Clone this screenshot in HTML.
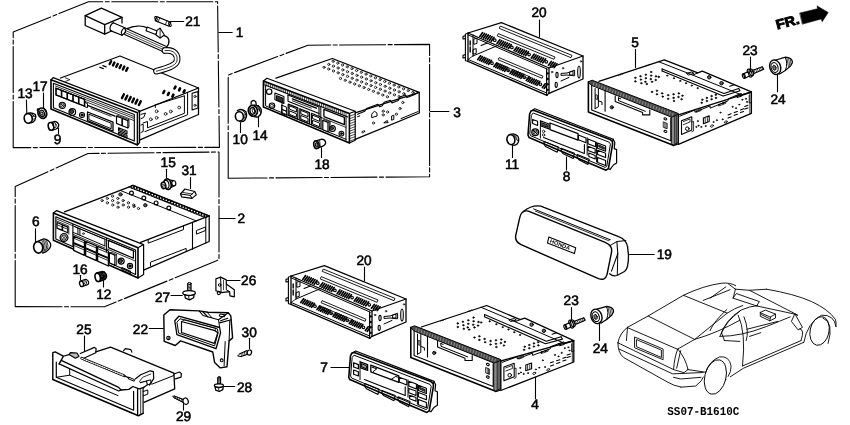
<!DOCTYPE html>
<html><head><meta charset="utf-8"><title>Radio parts diagram</title>
<style>
html,body{margin:0;padding:0;background:#fff;}
body{width:850px;height:425px;overflow:hidden;font-family:"Liberation Sans",sans-serif;}
svg{display:block;}
.lb,.mono,text{text-rendering:geometricPrecision;}
.lb{font-family:"Liberation Sans",sans-serif;fill:#000;stroke:#000;stroke-width:0.55px;}
.mono{font-family:"Liberation Mono",monospace;font-weight:bold;fill:#000;}
path,circle,ellipse{stroke-linejoin:round;stroke-linecap:round;}
</style></head><body>
<svg width="850" height="425" viewBox="0 0 850 425">
<defs><filter id="idf" x="0" y="0" width="850" height="425" filterUnits="userSpaceOnUse"><feOffset dx="0" dy="0"/></filter></defs>
<rect x="0" y="0" width="850" height="425" fill="#fff"/>
<g filter="url(#idf)">
<path d="M13.2 147.6 L13.2 32 L88.5 1.8 L217.6 1.8 L219.4 147.4 L13.2 147.6" fill="none" stroke="#000" stroke-width="1.1" stroke-dasharray="46 2.5 4 2.5"/>
<path d="M15.2 306.6 L15.2 186.6 L88 153.5 L219 152 L219 259.7 L104.5 306.8 L15.2 306.6" fill="none" stroke="#000" stroke-width="1.1" stroke-dasharray="46 2.5 4 2.5"/>
<path d="M228.2 178.2 L228.2 75 L308 45.2 L429.6 44.4 L429.6 176.8 L228.2 178.2" fill="none" stroke="#000" stroke-width="1.1" stroke-dasharray="46 2.5 4 2.5"/>
<text x="239.6" y="37" text-anchor="middle" font-size="13.7" class="lb">1</text>
<text x="192.8" y="26" text-anchor="middle" font-size="13.7" class="lb">21</text>
<text x="25" y="98.3" text-anchor="middle" font-size="13.7" class="lb">13</text>
<text x="40" y="91.1" text-anchor="middle" font-size="13.7" class="lb">17</text>
<text x="57.5" y="143.9" text-anchor="middle" font-size="13.7" class="lb">9</text>
<text x="241.3" y="222.5" text-anchor="middle" font-size="13.7" class="lb">2</text>
<text x="457" y="116.5" text-anchor="middle" font-size="13.7" class="lb">3</text>
<text x="240.2" y="143.8" text-anchor="middle" font-size="13.7" class="lb">10</text>
<text x="260" y="139.6" text-anchor="middle" font-size="13.7" class="lb">14</text>
<text x="322" y="169" text-anchor="middle" font-size="13.7" class="lb">18</text>
<text x="168.2" y="166.9" text-anchor="middle" font-size="13.7" class="lb">15</text>
<text x="189" y="174.8" text-anchor="middle" font-size="13.7" class="lb">31</text>
<text x="35.8" y="225.6" text-anchor="middle" font-size="13.7" class="lb">6</text>
<text x="80" y="273.8" text-anchor="middle" font-size="13.7" class="lb">16</text>
<text x="103.8" y="298.8" text-anchor="middle" font-size="13.7" class="lb">12</text>
<text x="248.7" y="284.9" text-anchor="middle" font-size="13.7" class="lb">26</text>
<text x="162.5" y="301.6" text-anchor="middle" font-size="13.7" class="lb">27</text>
<text x="140.4" y="334.1" text-anchor="middle" font-size="13.7" class="lb">22</text>
<text x="83.9" y="333.6" text-anchor="middle" font-size="13.7" class="lb">25</text>
<text x="249.2" y="336.6" text-anchor="middle" font-size="13.7" class="lb">30</text>
<text x="244.6" y="392.1" text-anchor="middle" font-size="13.7" class="lb">28</text>
<text x="183.5" y="421.1" text-anchor="middle" font-size="13.7" class="lb">29</text>
<text x="539" y="16.6" text-anchor="middle" font-size="13.7" class="lb">20</text>
<text x="364" y="264.6" text-anchor="middle" font-size="13.7" class="lb">20</text>
<text x="635" y="47.4" text-anchor="middle" font-size="13.7" class="lb">5</text>
<text x="750" y="54.6" text-anchor="middle" font-size="13.7" class="lb">23</text>
<text x="778" y="104.1" text-anchor="middle" font-size="13.7" class="lb">24</text>
<text x="512" y="168.6" text-anchor="middle" font-size="13.7" class="lb">11</text>
<text x="566.5" y="180.6" text-anchor="middle" font-size="13.7" class="lb">8</text>
<text x="664.3" y="258.9" text-anchor="middle" font-size="13.7" class="lb">19</text>
<text x="571.2" y="305.4" text-anchor="middle" font-size="13.7" class="lb">23</text>
<text x="600.3" y="352.7" text-anchor="middle" font-size="13.7" class="lb">24</text>
<text x="535.1" y="408.6" text-anchor="middle" font-size="13.7" class="lb">4</text>
<text x="324" y="371.6" text-anchor="middle" font-size="13.7" class="lb">7</text>
<path d="M218.8 32.5 L232.2 32.5" fill="none" stroke="#000" stroke-width="1.1" />
<path d="M170.5 21.5 L183.7 21.5" fill="none" stroke="#000" stroke-width="1.1" />
<path d="M26.4 100 L26.8 113.2" fill="none" stroke="#000" stroke-width="1.1" />
<path d="M43.5 93 L43.5 108" fill="none" stroke="#000" stroke-width="1.1" />
<path d="M58.5 128.4 L58.5 133.4" fill="none" stroke="#000" stroke-width="1.1" />
<path d="M219 218.5 L235 218.5" fill="none" stroke="#000" stroke-width="1.1" />
<path d="M430 111.5 L448.9 111.5" fill="none" stroke="#000" stroke-width="1.1" />
<path d="M240.5 122.5 L240.5 132.6" fill="none" stroke="#000" stroke-width="1.1" />
<path d="M258.5 116.8 L258.5 126.8" fill="none" stroke="#000" stroke-width="1.1" />
<path d="M321.5 147.8 L321.5 157.4" fill="none" stroke="#000" stroke-width="1.1" />
<path d="M166.5 169.2 L166.5 177.6" fill="none" stroke="#000" stroke-width="1.1" />
<path d="M190.5 177.6 L190.5 188.4" fill="none" stroke="#000" stroke-width="1.1" />
<path d="M35.5 228.8 L35.5 242.2" fill="none" stroke="#000" stroke-width="1.1" />
<path d="M80.5 275.2 L80.5 279.4" fill="none" stroke="#000" stroke-width="1.1" />
<path d="M103.5 280.6 L103.5 287" fill="none" stroke="#000" stroke-width="1.1" />
<path d="M227 280.5 L240 280.5" fill="none" stroke="#000" stroke-width="1.1" />
<path d="M171 295.5 L182.2 295.5" fill="none" stroke="#000" stroke-width="1.1" />
<path d="M149.2 328.5 L163.3 328.5" fill="none" stroke="#000" stroke-width="1.1" />
<path d="M84.5 336 L84.5 350.9" fill="none" stroke="#000" stroke-width="1.1" />
<path d="M249.5 338.2 L249.5 348.8" fill="none" stroke="#000" stroke-width="1.1" />
<path d="M224 386.5 L234.7 386.5" fill="none" stroke="#000" stroke-width="1.1" />
<path d="M183.5 402.7 L183.5 410.1" fill="none" stroke="#000" stroke-width="1.1" />
<path d="M539.5 20 L539.5 37" fill="none" stroke="#000" stroke-width="1.1" />
<path d="M364.5 267 L364.5 281" fill="none" stroke="#000" stroke-width="1.1" />
<path d="M635.5 49.5 L635.5 67.5" fill="none" stroke="#000" stroke-width="1.1" />
<path d="M750.5 57 L750.5 71.8" fill="none" stroke="#000" stroke-width="1.1" />
<path d="M777.5 74 L777.5 91.8" fill="none" stroke="#000" stroke-width="1.1" />
<path d="M512.5 145.8 L512.5 157.4" fill="none" stroke="#000" stroke-width="1.1" />
<path d="M566.5 157 L566.5 170" fill="none" stroke="#000" stroke-width="1.1" />
<path d="M629.6 254.5 L654.2 254.5" fill="none" stroke="#000" stroke-width="1.1" />
<path d="M571.5 307.5 L571.5 319.2" fill="none" stroke="#000" stroke-width="1.1" />
<path d="M599.5 322.4 L599.5 340.4" fill="none" stroke="#000" stroke-width="1.1" />
<path d="M535.5 377.2 L535.5 398.4" fill="none" stroke="#000" stroke-width="1.1" />
<path d="M331 367.5 L349 367.5" fill="none" stroke="#000" stroke-width="1.1" />
<text x="667.3" y="415.4" font-size="10.9" class="mono" textLength="72" lengthAdjust="spacingAndGlyphs" transform="translate(0 415.4) scale(1 1.1) translate(0 -415.4)">SS07-B1610C</text>
<path d="M60.5 78 L120 56 L198.5 88 L139.6 111.4" fill="none" stroke="#000" stroke-width="1.3" />
<path d="M198.5 88 L198.5 114.5 L140 139.8" fill="none" stroke="#000" stroke-width="1.3" />
<path d="M51 79.7 L137.5 112.7 L137.5 144.9 L51 108.9Z" fill="none" stroke="#000" stroke-width="1.6" />
<path d="M51 79.7 L53.2 77.6 L139.6 110.8 L139.6 142.6 L137.5 144.9" fill="none" stroke="#000" stroke-width="1.2" />
<path d="M137.5 112.7 L139.6 110.8" fill="none" stroke="#000" stroke-width="1.1" />
<path d="M53.4 83.2 L134.3 114.4 L134.3 141.1 L53.4 107.7Z" fill="none" stroke="#000" stroke-width="1.1" />
<path d="M55.5 86 L133.5 116.3" fill="none" stroke="#000" stroke-width="0.8" />
<path d="M55.5 87.9 L133.5 118.2" fill="none" stroke="#000" stroke-width="0.8" />
<path d="M85 101.4 L133.5 120.4" fill="none" stroke="#000" stroke-width="0.8" />
<path d="M56 88.2 L61.3 90.3 L61.3 97 L56 94.9Z" fill="none" stroke="#000" stroke-width="1.1" />
<path d="M61.8 90.5 L67 92.6 L67 99.3 L61.8 97.2Z" fill="none" stroke="#000" stroke-width="1.1" />
<path d="M67.5 92.7 L72.8 94.8 L72.8 101.6 L67.5 99.5Z" fill="none" stroke="#000" stroke-width="1.1" />
<path d="M73.2 95 L78.5 97 L78.5 103.8 L73.2 101.7Z" fill="none" stroke="#000" stroke-width="1.1" />
<path d="M79 97.2 L84.3 99.3 L84.3 106.1 L79 104Z" fill="none" stroke="#000" stroke-width="1.1" />
<path d="M56 88.2 L84.7 99.4 L84.7 106.3 L56 94.9Z" fill="none" stroke="#000" stroke-width="1.2" />
<path d="M84.7 102.4 L87.5 103.5 L87.5 107.7 L84.7 106.6" fill="none" stroke="#000" stroke-width="1" />
<path d="M87.5 105.3 L115 116.2" fill="none" stroke="#000" stroke-width="1.3" />
<path d="M91 108.4 L111 116.3" fill="none" stroke="#000" stroke-width="0.8" />
<circle cx="62.3" cy="105.3" r="3.1" fill="none" stroke="#000" stroke-width="1.1"/>
<circle cx="62.3" cy="105.3" r="2" fill="none" stroke="#000" stroke-width="0.7"/>
<path d="M60.7 103.7 L63.9 106.9" fill="none" stroke="#000" stroke-width="0.8" />
<path d="M60.7 106.9 L63.9 103.7" fill="none" stroke="#000" stroke-width="0.8" />
<circle cx="72.3" cy="112" r="3.3" fill="none" stroke="#000" stroke-width="1.2"/>
<circle cx="71.7" cy="111.6" r="2" fill="#444" stroke="#000" stroke-width="1"/>
<circle cx="82" cy="115" r="2.5" fill="none" stroke="#000" stroke-width="1.1"/>
<circle cx="82" cy="115" r="1.2" fill="#000" stroke="#000" stroke-width="0.7"/>
<path d="M87.5 112 L113 122.2 L113 131.2 L87.5 120.7Z" fill="none" stroke="#000" stroke-width="1.3" />
<path d="M89.3 114.4 L111.2 123.2 L111.2 128.7 L89.3 119.7Z" fill="none" stroke="#000" stroke-width="1" />
<path d="M116.5 116.1 L122.1 118.3 L122.1 125.7 L116.5 123.4Z" fill="none" stroke="#000" stroke-width="1.2" />
<path d="M122.3 118.4 L127.9 120.6 L127.9 128 L122.3 125.8Z" fill="none" stroke="#000" stroke-width="1.2" />
<path d="M116.5 116.1 L117.6 115.3 L129 119.7 L127.9 120.6" fill="none" stroke="#000" stroke-width="0.8" />
<path d="M129 119.7 L129 127.2 L127.9 128" fill="none" stroke="#000" stroke-width="0.8" />
<path d="M118.5 127.7 L127 131.1 L127 134 L118.5 130.5Z" fill="none" stroke="#000" stroke-width="1.1" />
<path d="M118.5 132 L127 135.5 L127 138.3 L118.5 134.8Z" fill="none" stroke="#000" stroke-width="1.1" />
<path d="M119.5 129.5 L126 132.1" fill="none" stroke="#000" stroke-width="1" />
<path d="M119.5 133.8 L126 136.5" fill="none" stroke="#000" stroke-width="1" />
<path d="M65.2 77.8 L69.9 79.7 L65.8 81.3" fill="none" stroke="#000" stroke-width="0.8" />
<path d="M109.7 64.1 L111.1 61.2" fill="none" stroke="#000" stroke-width="2.4" />
<path d="M113 65.4 L114.4 62.6" fill="none" stroke="#000" stroke-width="2.4" />
<path d="M116.3 66.8 L117.7 63.9" fill="none" stroke="#000" stroke-width="2.4" />
<path d="M119.6 68.1 L121 65.2" fill="none" stroke="#000" stroke-width="2.4" />
<path d="M122.9 69.5 L124.3 66.6" fill="none" stroke="#000" stroke-width="2.4" />
<path d="M126.2 70.8 L127.6 67.9" fill="none" stroke="#000" stroke-width="2.4" />
<path d="M102.9 65.6 L106.1 66.9" fill="none" stroke="#000" stroke-width="1.2" />
<path d="M99.8 67.2 L103.3 68.6" fill="none" stroke="#000" stroke-width="1.2" />
<path d="M122 98.1 L123.9 94.3" fill="none" stroke="#000" stroke-width="2.4" />
<path d="M125.4 99.5 L127.3 95.7" fill="none" stroke="#000" stroke-width="2.4" />
<path d="M128.8 100.8 L130.7 97.1" fill="none" stroke="#000" stroke-width="2.4" />
<path d="M132.2 102.2 L134 98.5" fill="none" stroke="#000" stroke-width="2.4" />
<path d="M135.5 103.6 L137.4 99.8" fill="none" stroke="#000" stroke-width="2.4" />
<path d="M138.9 105 L140.8 101.2" fill="none" stroke="#000" stroke-width="2.4" />
<path d="M174.5 88.5 L175.5 86.6" fill="none" stroke="#000" stroke-width="2.6" />
<path d="M179.1 90.4 L180 88.4" fill="none" stroke="#000" stroke-width="2.6" />
<path d="M183.6 92.2 L184.6 90.3" fill="none" stroke="#000" stroke-width="2.6" />
<path d="M163.3 93 L164.3 91" fill="none" stroke="#000" stroke-width="2.6" />
<path d="M167.9 94.8 L168.9 92.9" fill="none" stroke="#000" stroke-width="2.6" />
<path d="M172.4 96.7 L173.4 94.7" fill="none" stroke="#000" stroke-width="2.6" />
<path d="M155.3 104.9 L184.4 95.8" fill="none" stroke="#000" stroke-width="1" />
<path d="M184.4 96.2 L184.4 113.3 L147.5 127.8 L147.5 121.5 L143 123" fill="none" stroke="#000" stroke-width="1" />
<path d="M187.6 92.6 L187.6 114.8 L144.9 131.6" fill="none" stroke="#000" stroke-width="1" />
<path d="M155.3 104.9 L155.3 107.5" fill="none" stroke="#000" stroke-width="1" />
<path d="M192.1 93.2 L198 91.6 L198 108.1 L192.1 110Z" fill="none" stroke="#000" stroke-width="1.1" />
<circle cx="195" cy="96.5" r="1.1" fill="none" stroke="#000" stroke-width="0.8"/>
<circle cx="195" cy="105.3" r="1.1" fill="none" stroke="#000" stroke-width="0.8"/>
<circle cx="156.6" cy="111.3" r="1.4" fill="none" stroke="#000" stroke-width="0.8"/>
<circle cx="156.6" cy="117.8" r="1.4" fill="none" stroke="#000" stroke-width="0.8"/>
<circle cx="150.8" cy="119.3" r="1.4" fill="none" stroke="#000" stroke-width="0.8"/>
<circle cx="165.6" cy="113.9" r="1.4" fill="none" stroke="#000" stroke-width="0.8"/>
<circle cx="170.8" cy="111.5" r="1.4" fill="none" stroke="#000" stroke-width="0.8"/>
<circle cx="179.2" cy="107.5" r="1.4" fill="none" stroke="#000" stroke-width="0.8"/>
<path d="M141 114.4 L145.5 113.1 L143.6 117.6 L141 118.6" fill="none" stroke="#000" stroke-width="1" />
<path d="M141 125 L143.2 124.2 L143.2 131.5 L141 132.4" fill="none" stroke="#000" stroke-width="1" />
<path d="M85.2 15.7 L101.4 8.2 L122 17.3 L104.7 24.7Z" fill="none" stroke="#000" stroke-width="1.3" />
<path d="M85.2 15.7 L85.2 25.5 L104.7 34.1 L104.7 24.7" fill="none" stroke="#000" stroke-width="1.3" />
<path d="M104.7 34.1 L111.6 31" fill="none" stroke="#000" stroke-width="1.3" />
<path d="M122 17.3 L122 23.1" fill="none" stroke="#000" stroke-width="1.3" />
<path d="M113.2 22.7 L124.8 27.7" fill="none" stroke="#000" stroke-width="1.2" />
<path d="M110.4 30.6 L122 35.3" fill="none" stroke="#000" stroke-width="1.2" />
<path d="M113.2 22.7 Q108.8 26 110.4 30.6" fill="none" stroke="#000" stroke-width="1.2" />
<path d="M124.8 27.7 Q127.4 32.1 122 35.3 Q119.8 30.5 124.8 27.7" fill="none" stroke="#000" stroke-width="1.2" />
<path d="M125.7 28.2 L165.8 46.3" fill="none" stroke="#000" stroke-width="1.1" />
<path d="M125.3 30.4 L165.1 48.2" fill="none" stroke="#000" stroke-width="0.7" />
<path d="M124.9 32.5 L164.5 50" fill="none" stroke="#000" stroke-width="0.7" />
<path d="M124.6 34.6 L163.9 51.9" fill="none" stroke="#000" stroke-width="1.1" />
<path d="M165 50.6 C174.5 49.2,178.2 55.5,176.9 61.1 C175.6 66.3,166 68.6,156.4 71.2" fill="none" stroke="#000" stroke-width="6.6"/>
<path d="M165 50.6 C174.5 49.2,178.2 55.5,176.9 61.1 C175.6 66.3,166 68.6,156.4 71.2" fill="none" stroke="#fff" stroke-width="4.5"/>
<path d="M165 50.6 C174.5 49.2,178.2 55.5,176.9 61.1 C175.6 66.3,166 68.6,156.4 71.2" fill="none" stroke="#000" stroke-width="0.8"/>
<path d="M127 28.6 C133.6 26 142.1 25.2 147.3 27.8" fill="none" stroke="#000" stroke-width="1.3" />
<path d="M147.3 27.1 L157.1 31 L155.8 34.6 L146 30.7Z" fill="#fff" stroke="#000" stroke-width="1.1" />
<path d="M157.1 30.1 L160.1 28.2 L164.4 35 L160.1 38 L156 35Z" fill="#fff" stroke="#000" stroke-width="1.1" />
<path d="M160.1 28.2 L160.1 38" fill="none" stroke="#000" stroke-width="0.8" />
<path d="M164.1 35.7 C169.9 37.2 170.3 42.9 166.5 47" fill="none" stroke="#000" stroke-width="1.3" />
<path d="M156.7 16.6 L170.7 22.2 L169.1 26.3 L155.2 20.7Z" fill="none" stroke="#000" stroke-width="1.2" />
<ellipse cx="156" cy="18.6" rx="1.1" ry="2.2" fill="none" stroke="#000" stroke-width="1" transform="rotate(-22 156 18.6)"/>
<ellipse cx="169.9" cy="24.3" rx="1.1" ry="2.2" fill="none" stroke="#000" stroke-width="1" transform="rotate(-22 169.9 24.3)"/>
<path d="M159.7 17.9 L158.2 22" fill="none" stroke="#000" stroke-width="0.8" />
<path d="M166.9 20.7 L165.4 24.8" fill="none" stroke="#000" stroke-width="0.8" />
<path d="M26.3 113.9 Q31.2 111.5 35.4 114.6 Q36.8 117.4 34.9 120.2 Q33.5 122.4 31.2 122.8" fill="none" stroke="#000" stroke-width="1.3" />
<ellipse cx="28.2" cy="118.4" rx="4" ry="4.8" fill="#fff" stroke="#000" stroke-width="1.6" transform="rotate(-12 28.2 118.4)"/>
<path d="M30.7 113.2 L32.1 113.9" fill="none" stroke="#000" stroke-width="0.8" />
<path d="M31.7 113.9 L32.9 114.9" fill="none" stroke="#000" stroke-width="0.8" />
<path d="M32.6 114.7 L33.6 115.8" fill="none" stroke="#000" stroke-width="0.8" />
<path d="M33.5 115.4 L34.4 116.8" fill="none" stroke="#000" stroke-width="0.8" />
<path d="M32.1 116.5 L35.4 116" fill="none" stroke="#000" stroke-width="0.8" />
<path d="M32.3 119.3 L34.9 118.8" fill="none" stroke="#000" stroke-width="0.8" />
<ellipse cx="42.3" cy="113.2" rx="4.2" ry="5.3" fill="#fff" stroke="#000" stroke-width="1.7" transform="rotate(-22 42.3 113.2)"/>
<ellipse cx="42" cy="113.4" rx="2.4" ry="3.2" fill="none" stroke="#000" stroke-width="1.2" transform="rotate(-22 42 113.4)"/>
<ellipse cx="41.9" cy="113.5" rx="1.1" ry="1.6" fill="none" stroke="#000" stroke-width="1" transform="rotate(-22 41.9 113.5)"/>
<path d="M38.9 111.1 L37.3 110.2 L37.6 108.9 L39.5 109.2" fill="none" stroke="#000" stroke-width="1.2" />
<path d="M44.4 108.7 Q48.1 111.3 45.3 116.9" fill="none" stroke="#000" stroke-width="1.1" />
<path d="M50 122.8 L54.9 121.3 Q58 121.8 58.7 124.7 Q58.9 127.5 56.1 129 L52.4 130.1" fill="none" stroke="#000" stroke-width="1.3" />
<ellipse cx="51" cy="126.4" rx="2.7" ry="3.9" fill="#fff" stroke="#000" stroke-width="1.6" transform="rotate(-12 51 126.4)"/>
<ellipse cx="54.5" cy="125.2" rx="1.6" ry="2.6" fill="none" stroke="#000" stroke-width="0.8" transform="rotate(-12 54.5 125.2)"/>
<path d="M52.4 122.2 L53 123.5" fill="none" stroke="#000" stroke-width="0.8" />
<path d="M64.5 211.8 L133.2 185.3 L209.2 215.8 L140.6 242.4" fill="none" stroke="#000" stroke-width="1.3" />
<path d="M209.2 215.8 L209.2 241.5 L143.6 270.2" fill="none" stroke="#000" stroke-width="1.3" />
<path d="M205.8 217.4 L205.8 243" fill="none" stroke="#000" stroke-width="1" />
<path d="M53.4 213 L138 247.8 L138 278 L53.4 240.2Z" fill="none" stroke="#000" stroke-width="1.6" />
<path d="M53.4 213 L56.6 210.6 L143.6 244.6 L143.6 274.6 L138 278" fill="none" stroke="#000" stroke-width="1.2" />
<path d="M138 247.8 L143.6 244.6" fill="none" stroke="#000" stroke-width="1.1" />
<path d="M55.8 216.8 L135.6 249.9 L135.6 274.5 L55.8 239.1Z" fill="none" stroke="#000" stroke-width="1.1" />
<path d="M56.9 219.1 L135 251.6" fill="none" stroke="#000" stroke-width="0.8" />
<path d="M57 222.5 L62.2 224.7 L62.2 230.4 L57 228.1Z" fill="none" stroke="#000" stroke-width="1.2" />
<path d="M62.6 224.9 L67.8 227.1 L67.8 232.8 L62.6 230.5Z" fill="none" stroke="#000" stroke-width="1.2" />
<path d="M57 224.7 L62.2 226.9" fill="none" stroke="#000" stroke-width="0.8" />
<path d="M62.6 227.1 L67.8 229.3" fill="none" stroke="#000" stroke-width="0.8" />
<path d="M56.4 220.9 L68.8 226.1 L68.8 234.2" fill="none" stroke="#000" stroke-width="0.8" />
<circle cx="64" cy="237.6" r="3.9" fill="none" stroke="#000" stroke-width="1.3"/>
<circle cx="64" cy="237.6" r="2.5" fill="none" stroke="#000" stroke-width="0.8"/>
<path d="M62.2 235.8 L65.8 239.4" fill="none" stroke="#000" stroke-width="0.8" />
<path d="M62.2 239.4 L65.8 235.8" fill="none" stroke="#000" stroke-width="0.8" />
<path d="M72.9 224.3 L72.9 246.6" fill="none" stroke="#000" stroke-width="1.1" />
<path d="M72.9 232.3 L104.9 245.9" fill="none" stroke="#000" stroke-width="1" />
<path d="M74.4 226.6 L104.9 239.3 L104.9 245.9" fill="none" stroke="#000" stroke-width="1" />
<path d="M77.9 228.2 L77.9 233.9" fill="none" stroke="#000" stroke-width="1" />
<path d="M79.9 229.1 L79.9 234.8" fill="none" stroke="#000" stroke-width="1" />
<circle cx="83.4" cy="233.6" r="0.9" fill="none" stroke="#000" stroke-width="0.7"/>
<path d="M72.9 234.3 L104.9 248" fill="none" stroke="#000" stroke-width="0.8" />
<path d="M73.6 236.1 L84.4 240.7 L84.4 247.4 L73.6 242.6Z" fill="#fff" stroke="#000" stroke-width="1.2" />
<path d="M74.4 238.5 L83.6 242.5" fill="none" stroke="#000" stroke-width="0.8" />
<path d="M73.6 243.3 L84.4 248 L84.4 255.3 L73.6 250.4Z" fill="#fff" stroke="#000" stroke-width="1.3" />
<path d="M74.4 245.7 L83.6 249.7" fill="none" stroke="#000" stroke-width="0.8" />
<path d="M85.6 241.2 L96.4 245.9 L96.4 252.6 L85.6 247.9Z" fill="#fff" stroke="#000" stroke-width="1.2" />
<path d="M86.4 243.7 L95.6 247.6" fill="none" stroke="#000" stroke-width="0.8" />
<path d="M85.6 248.5 L96.4 253.3 L96.4 260.7 L85.6 255.8Z" fill="#fff" stroke="#000" stroke-width="1.3" />
<path d="M86.4 251 L95.6 255" fill="none" stroke="#000" stroke-width="0.8" />
<path d="M97.6 246.4 L108.4 251 L108.4 257.9 L97.6 253.2Z" fill="#fff" stroke="#000" stroke-width="1.2" />
<path d="M98.4 248.9 L107.6 252.8" fill="none" stroke="#000" stroke-width="0.8" />
<path d="M97.6 253.8 L108.4 258.5 L108.4 266 L97.6 261.2Z" fill="#fff" stroke="#000" stroke-width="1.3" />
<path d="M98.4 256.3 L107.6 260.3" fill="none" stroke="#000" stroke-width="0.8" />
<path d="M106.4 238 L106.4 251.9" fill="none" stroke="#000" stroke-width="1" />
<path d="M108.4 240.4 L133.4 250.8 L133.4 258.2 L108.4 247.6Z" fill="none" stroke="#000" stroke-width="1.2" />
<path d="M106.4 248.7 L135 260.9" fill="none" stroke="#000" stroke-width="0.8" />
<path d="M109.4 252.8 L114.9 255.1 L114.9 265.3 L109.4 262.8Z" fill="#fff" stroke="#000" stroke-width="1.2" />
<path d="M109.4 252.8 L111 252.2 L116.6 254.6 L114.9 255.1" fill="none" stroke="#000" stroke-width="0.8" />
<path d="M116.6 254.6 L116.6 264.7 L114.9 265.3" fill="none" stroke="#000" stroke-width="0.8" />
<circle cx="121.2" cy="261.1" r="3" fill="none" stroke="#000" stroke-width="1.2"/>
<circle cx="120.7" cy="260.8" r="1.8" fill="#444" stroke="#000" stroke-width="1"/>
<circle cx="130" cy="266" r="2.6" fill="none" stroke="#000" stroke-width="1.1"/>
<circle cx="130" cy="266" r="1.3" fill="#000" stroke="#000" stroke-width="0.7"/>
<path d="M121.9 267.5 L130.4 271.3 L130.4 273.7 L121.9 269.9Z" fill="none" stroke="#000" stroke-width="1.1" />
<path d="M120.2 190.4 L196.2 220.9" fill="none" stroke="#000" stroke-width="1" />
<path d="M128.7 187 L204.7 217.5" fill="none" stroke="#000" stroke-width="0.8" />
<circle cx="132.5" cy="186.7" r="1.4" fill="none" stroke="#000" stroke-width="1.1"/>
<circle cx="135.4" cy="187.8" r="1.4" fill="none" stroke="#000" stroke-width="1.1"/>
<circle cx="138.2" cy="188.9" r="1.4" fill="none" stroke="#000" stroke-width="1.1"/>
<circle cx="141" cy="190.1" r="1.4" fill="none" stroke="#000" stroke-width="1.1"/>
<circle cx="143.8" cy="191.2" r="1.4" fill="none" stroke="#000" stroke-width="1.1"/>
<circle cx="146.6" cy="192.3" r="1.4" fill="none" stroke="#000" stroke-width="1.1"/>
<circle cx="149.4" cy="193.4" r="1.4" fill="none" stroke="#000" stroke-width="1.1"/>
<circle cx="152.3" cy="194.6" r="1.4" fill="none" stroke="#000" stroke-width="1.1"/>
<circle cx="155.1" cy="195.7" r="1.4" fill="none" stroke="#000" stroke-width="1.1"/>
<circle cx="157.9" cy="196.8" r="1.4" fill="none" stroke="#000" stroke-width="1.1"/>
<circle cx="160.7" cy="198" r="1.4" fill="none" stroke="#000" stroke-width="1.1"/>
<circle cx="163.5" cy="199.1" r="1.4" fill="none" stroke="#000" stroke-width="1.1"/>
<circle cx="166.3" cy="200.2" r="1.4" fill="none" stroke="#000" stroke-width="1.1"/>
<circle cx="169.1" cy="201.3" r="1.4" fill="none" stroke="#000" stroke-width="1.1"/>
<circle cx="172" cy="202.5" r="1.4" fill="none" stroke="#000" stroke-width="1.1"/>
<circle cx="174.8" cy="203.6" r="1.4" fill="none" stroke="#000" stroke-width="1.1"/>
<circle cx="177.6" cy="204.7" r="1.4" fill="none" stroke="#000" stroke-width="1.1"/>
<circle cx="180.4" cy="205.9" r="1.4" fill="none" stroke="#000" stroke-width="1.1"/>
<circle cx="183.2" cy="207" r="1.4" fill="none" stroke="#000" stroke-width="1.1"/>
<circle cx="186" cy="208.1" r="1.4" fill="none" stroke="#000" stroke-width="1.1"/>
<circle cx="188.8" cy="209.3" r="1.4" fill="none" stroke="#000" stroke-width="1.1"/>
<circle cx="191.7" cy="210.4" r="1.4" fill="none" stroke="#000" stroke-width="1.1"/>
<circle cx="194.5" cy="211.5" r="1.4" fill="none" stroke="#000" stroke-width="1.1"/>
<circle cx="197.3" cy="212.6" r="1.4" fill="none" stroke="#000" stroke-width="1.1"/>
<circle cx="200.1" cy="213.8" r="1.4" fill="none" stroke="#000" stroke-width="1.1"/>
<circle cx="202.9" cy="214.9" r="1.4" fill="none" stroke="#000" stroke-width="1.1"/>
<circle cx="205.7" cy="216" r="1.4" fill="none" stroke="#000" stroke-width="1.1"/>
<circle cx="131.5" cy="193.1" r="1.9" fill="none" stroke="#000" stroke-width="1.2"/>
<circle cx="143.8" cy="198" r="1.9" fill="none" stroke="#000" stroke-width="1.2"/>
<circle cx="156.1" cy="202.9" r="1.9" fill="none" stroke="#000" stroke-width="1.2"/>
<circle cx="168.8" cy="208" r="1.9" fill="none" stroke="#000" stroke-width="1.2"/>
<circle cx="120.5" cy="194.4" r="1.7" fill="#555" stroke="#000" stroke-width="0.8"/>
<circle cx="145.3" cy="205.2" r="1.7" fill="#555" stroke="#000" stroke-width="0.8"/>
<circle cx="112.5" cy="196.2" r="1.1" fill="none" stroke="#000" stroke-width="0.8"/>
<circle cx="117.8" cy="198.4" r="1.1" fill="none" stroke="#000" stroke-width="0.8"/>
<circle cx="123.1" cy="200.6" r="1.1" fill="none" stroke="#000" stroke-width="0.8"/>
<circle cx="128.4" cy="202.8" r="1.1" fill="none" stroke="#000" stroke-width="0.8"/>
<circle cx="133.7" cy="205" r="1.1" fill="none" stroke="#000" stroke-width="0.8"/>
<circle cx="107.3" cy="198.4" r="1.1" fill="none" stroke="#000" stroke-width="0.8"/>
<circle cx="112.6" cy="200.6" r="1.1" fill="none" stroke="#000" stroke-width="0.8"/>
<circle cx="117.9" cy="202.8" r="1.1" fill="none" stroke="#000" stroke-width="0.8"/>
<circle cx="123.2" cy="205" r="1.1" fill="none" stroke="#000" stroke-width="0.8"/>
<circle cx="128.5" cy="207.2" r="1.1" fill="none" stroke="#000" stroke-width="0.8"/>
<circle cx="102.1" cy="200.6" r="1.1" fill="none" stroke="#000" stroke-width="0.8"/>
<circle cx="107.4" cy="202.8" r="1.1" fill="none" stroke="#000" stroke-width="0.8"/>
<circle cx="112.7" cy="205" r="1.1" fill="none" stroke="#000" stroke-width="0.8"/>
<circle cx="118" cy="207.2" r="1.1" fill="none" stroke="#000" stroke-width="0.8"/>
<circle cx="134" cy="206.5" r="1.1" fill="none" stroke="#000" stroke-width="0.8"/>
<circle cx="138.5" cy="208.5" r="1.1" fill="none" stroke="#000" stroke-width="0.8"/>
<path d="M192.5 222.4 L192.5 249.2" fill="none" stroke="#000" stroke-width="1.1" />
<path d="M148.2 239.6 L148.2 243.2 L183.5 229.6 L183.5 226" fill="none" stroke="#000" stroke-width="1" />
<path d="M150.5 265.6 L150.5 262.2 L186.2 248.4 L186.2 251" fill="none" stroke="#000" stroke-width="1" />
<path d="M196.8 230.4 L205.4 227 L205.4 230.6 L196.8 234Z" fill="none" stroke="#000" stroke-width="1" />
<ellipse cx="173.8" cy="183.2" rx="2" ry="2.7" fill="none" stroke="#000" stroke-width="1.2" transform="rotate(-10 173.8 183.2)"/>
<path d="M169.1 179.9 L173.6 180.6" fill="none" stroke="#000" stroke-width="1.1" />
<path d="M169.7 188.2 L174.1 185.8" fill="none" stroke="#000" stroke-width="1.1" />
<ellipse cx="167.5" cy="184.2" rx="3.6" ry="5.3" fill="#fff" stroke="#000" stroke-width="1.7" transform="rotate(-12 167.5 184.2)"/>
<ellipse cx="166.3" cy="184.4" rx="2.6" ry="4" fill="none" stroke="#000" stroke-width="1.1" transform="rotate(-12 166.3 184.4)"/>
<ellipse cx="163.5" cy="185.4" rx="2.3" ry="3.3" fill="#fff" stroke="#000" stroke-width="1.4" transform="rotate(-12 163.5 185.4)"/>
<ellipse cx="163.2" cy="185.5" rx="1.1" ry="1.7" fill="none" stroke="#000" stroke-width="0.8" transform="rotate(-12 163.2 185.5)"/>
<path d="M180.5 194 L184.9 189 L194.8 191.5 L196.3 194.9 L191.9 198.4 L181.7 196.9Z" fill="none" stroke="#000" stroke-width="1.2" />
<path d="M180.5 194 L190.4 195.4 L194.8 191.5" fill="none" stroke="#000" stroke-width="1" />
<path d="M190.4 195.4 L191.9 198.4" fill="none" stroke="#000" stroke-width="1" />
<path d="M183 192.5 L192.3 194" fill="none" stroke="#000" stroke-width="0.8" />
<path d="M35.8 242 L43.8 238.8 Q48.5 239.6 50.4 243.2 Q51.6 246.7 48.1 250 Q46.2 252.1 42.6 253.1" fill="none" stroke="#000" stroke-width="1.3" />
<ellipse cx="38.2" cy="247.4" rx="4.5" ry="5.7" fill="#fff" stroke="#000" stroke-width="1.6" transform="rotate(-10 38.2 247.4)"/>
<path d="M41.5 239.9 Q45.2 245.3 42.6 252.4" fill="none" stroke="#000" stroke-width="0.8" />
<path d="M43.1 240.1 Q46.6 245.6 44.1 251.4" fill="none" stroke="#000" stroke-width="0.8" />
<path d="M44.8 240.4 Q48.1 246 45.5 250.5" fill="none" stroke="#000" stroke-width="0.8" />
<path d="M46.4 240.6 Q49.5 246.4 46.9 249.5" fill="none" stroke="#000" stroke-width="0.8" />
<path d="M80.1 281.1 L85.9 279.2 Q89.9 281.1 88.1 284.4 L82.6 286.5" fill="none" stroke="#000" stroke-width="1.2" />
<ellipse cx="81.5" cy="283.8" rx="1.9" ry="2.8" fill="#fff" stroke="#000" stroke-width="1.3" transform="rotate(-15 81.5 283.8)"/>
<ellipse cx="85.2" cy="282.5" rx="1.2" ry="2" fill="none" stroke="#000" stroke-width="0.8" transform="rotate(-15 85.2 282.5)"/>
<path d="M96.5 272.9 L102.4 271.5 Q106.4 272.6 106.6 276.2 Q106.4 279.1 103.8 279.9 L99.1 281.6" fill="none" stroke="#000" stroke-width="1.3" />
<ellipse cx="97.7" cy="277.4" rx="2.6" ry="4.2" fill="#fff" stroke="#000" stroke-width="1.6" transform="rotate(-12 97.7 277.4)"/>
<path d="M99.4 272.4 Q101.7 276.2 100.3 281.1" fill="none" stroke="#000" stroke-width="1" />
<path d="M100.4 272.3 Q102.6 276.2 101.2 280.8" fill="none" stroke="#000" stroke-width="1" />
<path d="M101.5 272.2 Q103.6 276.2 102.2 280.4" fill="none" stroke="#000" stroke-width="1" />
<path d="M102.5 272.1 Q104.5 276.2 103.1 280.1" fill="none" stroke="#000" stroke-width="1" />
<path d="M103.6 271.9 Q105.5 276.2 104.1 279.7" fill="none" stroke="#000" stroke-width="1" />
<path d="M104.6 271.8 Q106.4 276.2 105 279.4" fill="none" stroke="#000" stroke-width="1" />
<ellipse cx="102.2" cy="276.2" rx="1.6" ry="2.6" fill="none" stroke="#000" stroke-width="1" transform="rotate(-12 102.2 276.2)"/>
<path d="M276 78.2 L332.3 58.5 L419.2 92.4 L355.2 112.8" fill="none" stroke="#000" stroke-width="1.3" />
<path d="M419.2 92.4 L419.3 113 L355.2 139.4" fill="none" stroke="#000" stroke-width="1.3" />
<path d="M401 118.6 L418 111.6" fill="none" stroke="#000" stroke-width="1" />
<path d="M263.4 81 L349.4 113.6 L349.4 143 L263.4 107Z" fill="none" stroke="#000" stroke-width="1.6" />
<path d="M263.4 81 L267 78.2 L355.2 111.2 L355.2 140.2 L349.4 143" fill="none" stroke="#000" stroke-width="1.2" />
<path d="M349.4 113.6 L355.2 111.2" fill="none" stroke="#000" stroke-width="1.1" />
<path d="M264.9 85 L347.9 116.9" fill="none" stroke="#000" stroke-width="1.1" />
<path d="M264.9 82 L264.9 85" fill="none" stroke="#000" stroke-width="0.7" />
<path d="M266.8 82.7 L266.8 85.7" fill="none" stroke="#000" stroke-width="0.7" />
<path d="M268.7 83.4 L268.7 86.4" fill="none" stroke="#000" stroke-width="0.7" />
<path d="M270.6 84.1 L270.6 87.2" fill="none" stroke="#000" stroke-width="0.7" />
<path d="M272.4 84.8 L272.4 87.9" fill="none" stroke="#000" stroke-width="0.7" />
<path d="M274.3 85.5 L274.3 88.6" fill="none" stroke="#000" stroke-width="0.7" />
<path d="M276.2 86.3 L276.2 89.3" fill="none" stroke="#000" stroke-width="0.7" />
<path d="M278.1 87 L278.1 90" fill="none" stroke="#000" stroke-width="0.7" />
<path d="M280 87.7 L280 90.8" fill="none" stroke="#000" stroke-width="0.7" />
<path d="M281.9 88.4 L281.9 91.5" fill="none" stroke="#000" stroke-width="0.7" />
<path d="M283.8 89.1 L283.8 92.2" fill="none" stroke="#000" stroke-width="0.7" />
<path d="M285.6 89.8 L285.6 92.9" fill="none" stroke="#000" stroke-width="0.7" />
<path d="M287.5 90.6 L287.5 93.7" fill="none" stroke="#000" stroke-width="0.7" />
<path d="M289.4 91.3 L289.4 94.4" fill="none" stroke="#000" stroke-width="0.7" />
<path d="M291.3 92 L291.3 95.1" fill="none" stroke="#000" stroke-width="0.7" />
<path d="M293.2 92.7 L293.2 95.8" fill="none" stroke="#000" stroke-width="0.7" />
<path d="M295.1 93.4 L295.1 96.6" fill="none" stroke="#000" stroke-width="0.7" />
<path d="M297 94.1 L297 97.3" fill="none" stroke="#000" stroke-width="0.7" />
<path d="M298.9 94.9 L298.9 98" fill="none" stroke="#000" stroke-width="0.7" />
<path d="M300.7 95.6 L300.7 98.7" fill="none" stroke="#000" stroke-width="0.7" />
<path d="M302.6 96.3 L302.6 99.5" fill="none" stroke="#000" stroke-width="0.7" />
<path d="M304.5 97 L304.5 100.2" fill="none" stroke="#000" stroke-width="0.7" />
<path d="M306.4 97.7 L306.4 100.9" fill="none" stroke="#000" stroke-width="0.7" />
<path d="M308.3 98.4 L308.3 101.6" fill="none" stroke="#000" stroke-width="0.7" />
<path d="M310.2 99.2 L310.2 102.4" fill="none" stroke="#000" stroke-width="0.7" />
<path d="M312.1 99.9 L312.1 103.1" fill="none" stroke="#000" stroke-width="0.7" />
<path d="M313.9 100.6 L313.9 103.8" fill="none" stroke="#000" stroke-width="0.7" />
<path d="M315.8 101.3 L315.8 104.5" fill="none" stroke="#000" stroke-width="0.7" />
<path d="M317.7 102 L317.7 105.3" fill="none" stroke="#000" stroke-width="0.7" />
<path d="M319.6 102.7 L319.6 106" fill="none" stroke="#000" stroke-width="0.7" />
<path d="M321.5 103.5 L321.5 106.7" fill="none" stroke="#000" stroke-width="0.7" />
<path d="M323.4 104.2 L323.4 107.4" fill="none" stroke="#000" stroke-width="0.7" />
<path d="M325.3 104.9 L325.3 108.2" fill="none" stroke="#000" stroke-width="0.7" />
<path d="M327.1 105.6 L327.1 108.9" fill="none" stroke="#000" stroke-width="0.7" />
<path d="M329 106.3 L329 109.6" fill="none" stroke="#000" stroke-width="0.7" />
<path d="M330.9 107 L330.9 110.3" fill="none" stroke="#000" stroke-width="0.7" />
<path d="M332.8 107.7 L332.8 111.1" fill="none" stroke="#000" stroke-width="0.7" />
<path d="M334.7 108.5 L334.7 111.8" fill="none" stroke="#000" stroke-width="0.7" />
<path d="M336.6 109.2 L336.6 112.5" fill="none" stroke="#000" stroke-width="0.7" />
<path d="M338.5 109.9 L338.5 113.2" fill="none" stroke="#000" stroke-width="0.7" />
<path d="M340.4 110.6 L340.4 114" fill="none" stroke="#000" stroke-width="0.7" />
<path d="M342.2 111.3 L342.2 114.7" fill="none" stroke="#000" stroke-width="0.7" />
<path d="M344.1 112 L344.1 115.4" fill="none" stroke="#000" stroke-width="0.7" />
<path d="M346 112.8 L346 116.1" fill="none" stroke="#000" stroke-width="0.7" />
<path d="M349.6 116.2 L355 114.2" fill="none" stroke="#000" stroke-width="0.7" />
<path d="M349.6 118.7 L355 116.7" fill="none" stroke="#000" stroke-width="0.7" />
<path d="M349.6 121.2 L355 119.2" fill="none" stroke="#000" stroke-width="0.7" />
<path d="M349.6 123.7 L355 121.7" fill="none" stroke="#000" stroke-width="0.7" />
<path d="M349.6 126.2 L355 124.2" fill="none" stroke="#000" stroke-width="0.7" />
<path d="M349.6 128.7 L355 126.7" fill="none" stroke="#000" stroke-width="0.7" />
<path d="M349.6 131.2 L355 129.2" fill="none" stroke="#000" stroke-width="0.7" />
<path d="M349.6 133.7 L355 131.7" fill="none" stroke="#000" stroke-width="0.7" />
<path d="M349.6 136.2 L355 134.2" fill="none" stroke="#000" stroke-width="0.7" />
<path d="M349.6 138.7 L355 136.7" fill="none" stroke="#000" stroke-width="0.7" />
<path d="M349.6 141.2 L355 139.2" fill="none" stroke="#000" stroke-width="0.7" />
<path d="M346 116.1 L346 140.4" fill="none" stroke="#000" stroke-width="1" />
<path d="M265.6 85.2 L265.6 105.9 L346 139.3" fill="none" stroke="#000" stroke-width="1" />
<circle cx="269.2" cy="91.7" r="2.7" fill="none" stroke="#000" stroke-width="1.2"/>
<path d="M274.9 93.1 L283.9 96.6 L283.9 103.4 L274.9 99.8Z" fill="none" stroke="#000" stroke-width="1.1" />
<path d="M276.9 95.7 L282.9 98.1 L282.9 102.4 L276.9 100Z" fill="#333" stroke="#000" stroke-width="1" />
<circle cx="272" cy="105.7" r="2.7" fill="none" stroke="#000" stroke-width="1.2"/>
<circle cx="272" cy="105.7" r="1.4" fill="none" stroke="#000" stroke-width="0.7"/>
<path d="M288 95.1 L319 107.1 L319 115.6" fill="none" stroke="#000" stroke-width="1.1" />
<path d="M288 95.1 L288 101.3 L319 113.6" fill="none" stroke="#000" stroke-width="1.1" />
<path d="M292.4 98.9 L316.4 108.2" fill="none" stroke="#000" stroke-width="1.4" />
<path d="M292.4 100.8 L311.4 108.2" fill="none" stroke="#000" stroke-width="0.8" />
<path d="M282 105.3 L286.6 107.2 L286.6 111.3 L282 109.4Z" fill="none" stroke="#000" stroke-width="1" />
<path d="M282 109.4 L286.6 111.3 L286.6 115.5 L282 113.5Z" fill="none" stroke="#000" stroke-width="1" />
<path d="M282 103.5 L282 114.3" fill="none" stroke="#000" stroke-width="1" />
<path d="M288.2 104.1 L297.8 107.9 L297.8 119.1 L288.2 115.1Z" fill="#fff" stroke="#000" stroke-width="1.2" />
<path d="M289.6 105.9 L296.4 108.6 L296.4 112 L289.6 109.2Z" fill="none" stroke="#000" stroke-width="1" />
<path d="M289.6 110.9 L296.4 113.7 L296.4 117.2 L289.6 114.4Z" fill="none" stroke="#000" stroke-width="1" />
<path d="M299.8 108.7 L309.4 112.6 L309.4 123.9 L299.8 119.9Z" fill="#fff" stroke="#000" stroke-width="1.2" />
<path d="M301.2 110.5 L308 113.3 L308 116.7 L301.2 113.9Z" fill="none" stroke="#000" stroke-width="1" />
<path d="M301.2 115.6 L308 118.4 L308 122 L301.2 119.2Z" fill="none" stroke="#000" stroke-width="1" />
<path d="M311.4 113.3 L321 117.2 L321 128.7 L311.4 124.7Z" fill="#fff" stroke="#000" stroke-width="1.2" />
<path d="M312.8 115.2 L319.6 117.9 L319.6 121.4 L312.8 118.6Z" fill="none" stroke="#000" stroke-width="1" />
<path d="M312.8 120.4 L319.6 123.1 L319.6 126.8 L312.8 124Z" fill="none" stroke="#000" stroke-width="1" />
<path d="M320.8 107.1 L320.8 118" fill="none" stroke="#000" stroke-width="1" />
<path d="M323.9 109.4 L344.4 117.3 L344.4 124.7 L323.9 116.6Z" fill="none" stroke="#000" stroke-width="1.3" />
<path d="M321.4 117.6 L346 127.4" fill="none" stroke="#000" stroke-width="0.8" />
<path d="M322.8 120.3 L328 122.4 L328 131.8 L322.8 129.7Z" fill="#fff" stroke="#000" stroke-width="1.2" />
<path d="M322.8 120.3 L324.2 119.5 L329.4 121.6 L328 122.4" fill="none" stroke="#000" stroke-width="0.8" />
<path d="M329.4 121.6 L329.4 131.1 L328 131.8" fill="none" stroke="#000" stroke-width="0.8" />
<circle cx="332.4" cy="128.6" r="2.9" fill="none" stroke="#000" stroke-width="1.2"/>
<circle cx="332" cy="128.3" r="1.6" fill="#444" stroke="#000" stroke-width="0.8"/>
<circle cx="341.4" cy="133.6" r="2.4" fill="none" stroke="#000" stroke-width="1.1"/>
<circle cx="341.4" cy="133.6" r="1.1" fill="#000" stroke="#000" stroke-width="0.7"/>
<path d="M330.4 124.5 L330.4 121.2" fill="none" stroke="#000" stroke-width="0.6" />
<circle cx="333.1" cy="61.3" r="1.1" fill="none" stroke="#000" stroke-width="0.8"/>
<circle cx="337.8" cy="63.1" r="1.1" fill="none" stroke="#000" stroke-width="0.8"/>
<circle cx="342.5" cy="65" r="1.1" fill="none" stroke="#000" stroke-width="0.8"/>
<circle cx="347.2" cy="66.8" r="1.1" fill="none" stroke="#000" stroke-width="0.8"/>
<circle cx="351.9" cy="68.6" r="1.1" fill="none" stroke="#000" stroke-width="0.8"/>
<circle cx="356.6" cy="70.5" r="1.1" fill="none" stroke="#000" stroke-width="0.8"/>
<circle cx="361.3" cy="72.3" r="1.1" fill="none" stroke="#000" stroke-width="0.8"/>
<circle cx="366" cy="74.1" r="1.1" fill="none" stroke="#000" stroke-width="0.8"/>
<circle cx="370.7" cy="76" r="1.1" fill="none" stroke="#000" stroke-width="0.8"/>
<circle cx="375.4" cy="77.8" r="1.1" fill="none" stroke="#000" stroke-width="0.8"/>
<circle cx="380.1" cy="79.6" r="1.1" fill="none" stroke="#000" stroke-width="0.8"/>
<circle cx="384.7" cy="81.5" r="1.1" fill="none" stroke="#000" stroke-width="0.8"/>
<circle cx="389.4" cy="83.3" r="1.1" fill="none" stroke="#000" stroke-width="0.8"/>
<circle cx="394.1" cy="85.1" r="1.1" fill="none" stroke="#000" stroke-width="0.8"/>
<circle cx="398.8" cy="86.9" r="1.1" fill="none" stroke="#000" stroke-width="0.8"/>
<circle cx="403.5" cy="88.8" r="1.1" fill="none" stroke="#000" stroke-width="0.8"/>
<circle cx="408.2" cy="90.6" r="1.1" fill="none" stroke="#000" stroke-width="0.8"/>
<circle cx="412.9" cy="92.4" r="1.1" fill="none" stroke="#000" stroke-width="0.8"/>
<circle cx="328.8" cy="64.4" r="1.1" fill="none" stroke="#000" stroke-width="0.8"/>
<circle cx="333.4" cy="66.2" r="1.1" fill="none" stroke="#000" stroke-width="0.8"/>
<circle cx="338.1" cy="68" r="1.1" fill="none" stroke="#000" stroke-width="0.8"/>
<circle cx="342.8" cy="69.9" r="1.1" fill="none" stroke="#000" stroke-width="0.8"/>
<circle cx="347.5" cy="71.7" r="1.1" fill="none" stroke="#000" stroke-width="0.8"/>
<circle cx="352.2" cy="73.5" r="1.1" fill="none" stroke="#000" stroke-width="0.8"/>
<circle cx="356.9" cy="75.4" r="1.1" fill="none" stroke="#000" stroke-width="0.8"/>
<circle cx="361.6" cy="77.2" r="1.1" fill="none" stroke="#000" stroke-width="0.8"/>
<circle cx="366.3" cy="79" r="1.1" fill="none" stroke="#000" stroke-width="0.8"/>
<circle cx="371" cy="80.8" r="1.1" fill="none" stroke="#000" stroke-width="0.8"/>
<circle cx="375.7" cy="82.7" r="1.1" fill="none" stroke="#000" stroke-width="0.8"/>
<circle cx="380.4" cy="84.5" r="1.1" fill="none" stroke="#000" stroke-width="0.8"/>
<circle cx="385.1" cy="86.3" r="1.1" fill="none" stroke="#000" stroke-width="0.8"/>
<circle cx="389.8" cy="88.2" r="1.1" fill="none" stroke="#000" stroke-width="0.8"/>
<circle cx="394.4" cy="90" r="1.1" fill="none" stroke="#000" stroke-width="0.8"/>
<circle cx="399.1" cy="91.8" r="1.1" fill="none" stroke="#000" stroke-width="0.8"/>
<circle cx="403.8" cy="93.7" r="1.1" fill="none" stroke="#000" stroke-width="0.8"/>
<circle cx="324" cy="67.3" r="1.1" fill="none" stroke="#000" stroke-width="0.8"/>
<circle cx="328.7" cy="69.1" r="1.1" fill="none" stroke="#000" stroke-width="0.8"/>
<circle cx="333.4" cy="71" r="1.1" fill="none" stroke="#000" stroke-width="0.8"/>
<circle cx="338.1" cy="72.8" r="1.1" fill="none" stroke="#000" stroke-width="0.8"/>
<circle cx="342.8" cy="74.6" r="1.1" fill="none" stroke="#000" stroke-width="0.8"/>
<circle cx="347.5" cy="76.4" r="1.1" fill="none" stroke="#000" stroke-width="0.8"/>
<circle cx="352.2" cy="78.3" r="1.1" fill="none" stroke="#000" stroke-width="0.8"/>
<circle cx="356.9" cy="80.1" r="1.1" fill="none" stroke="#000" stroke-width="0.8"/>
<circle cx="361.6" cy="81.9" r="1.1" fill="none" stroke="#000" stroke-width="0.8"/>
<circle cx="366.3" cy="83.8" r="1.1" fill="none" stroke="#000" stroke-width="0.8"/>
<circle cx="371" cy="85.6" r="1.1" fill="none" stroke="#000" stroke-width="0.8"/>
<circle cx="375.6" cy="87.4" r="1.1" fill="none" stroke="#000" stroke-width="0.8"/>
<circle cx="380.3" cy="89.3" r="1.1" fill="none" stroke="#000" stroke-width="0.8"/>
<circle cx="385" cy="91.1" r="1.1" fill="none" stroke="#000" stroke-width="0.8"/>
<circle cx="389.7" cy="92.9" r="1.1" fill="none" stroke="#000" stroke-width="0.8"/>
<circle cx="394.4" cy="94.8" r="1.1" fill="none" stroke="#000" stroke-width="0.8"/>
<circle cx="399.1" cy="96.6" r="1.1" fill="none" stroke="#000" stroke-width="0.8"/>
<circle cx="340.5" cy="78.5" r="1.1" fill="none" stroke="#000" stroke-width="0.8"/>
<circle cx="345.2" cy="80.3" r="1.1" fill="none" stroke="#000" stroke-width="0.8"/>
<circle cx="349.9" cy="82.2" r="1.1" fill="none" stroke="#000" stroke-width="0.8"/>
<circle cx="354.6" cy="84" r="1.1" fill="none" stroke="#000" stroke-width="0.8"/>
<circle cx="359.3" cy="85.8" r="1.1" fill="none" stroke="#000" stroke-width="0.8"/>
<circle cx="364" cy="87.6" r="1.1" fill="none" stroke="#000" stroke-width="0.8"/>
<circle cx="368.7" cy="89.5" r="1.1" fill="none" stroke="#000" stroke-width="0.8"/>
<circle cx="373.4" cy="91.3" r="1.1" fill="none" stroke="#000" stroke-width="0.8"/>
<circle cx="378.1" cy="93.1" r="1.1" fill="none" stroke="#000" stroke-width="0.8"/>
<circle cx="382.7" cy="95" r="1.1" fill="none" stroke="#000" stroke-width="0.8"/>
<circle cx="387.4" cy="96.8" r="1.1" fill="none" stroke="#000" stroke-width="0.8"/>
<path d="M357.6 114.2 L364.7 111.3 L366.5 108.5 L377.9 104.3 L379.7 106.7 L382.3 105.7 L384.1 102.3 L390.3 100.2 L392 102.9 L398.2 100.4 L400 96.9 L405.3 94.9 L407 97.6 L414.1 94.8 L418.5 92.6" fill="none" stroke="#000" stroke-width="1.1" />
<path d="M371.7 117.3 L371.7 114.2 L374.4 111.2 L377 113.1 L377 115.6Z" fill="none" stroke="#000" stroke-width="1" />
<circle cx="383.2" cy="111.2" r="1.1" fill="none" stroke="#000" stroke-width="0.8"/>
<circle cx="387.6" cy="112" r="1.1" fill="none" stroke="#000" stroke-width="0.8"/>
<circle cx="383.2" cy="114.9" r="1.1" fill="none" stroke="#000" stroke-width="0.8"/>
<circle cx="396.4" cy="114.2" r="1.1" fill="none" stroke="#000" stroke-width="0.8"/>
<circle cx="400" cy="108.5" r="1.1" fill="none" stroke="#000" stroke-width="0.8"/>
<circle cx="402.8" cy="102.5" r="1.1" fill="none" stroke="#000" stroke-width="0.8"/>
<circle cx="373.5" cy="123" r="1.1" fill="none" stroke="#000" stroke-width="0.8"/>
<path d="M392 115.9 L393.8 115.2 L393.8 119.4 L392 120.1Z" fill="none" stroke="#000" stroke-width="1" />
<path d="M384.1 122.6 L387.3 120.5 L388 122.3Z" fill="none" stroke="#000" stroke-width="1" />
<ellipse cx="363.3" cy="131.8" rx="1.6" ry="0.8" fill="none" stroke="#000" stroke-width="0.8" transform="rotate(-22 363.3 131.8)"/>
<path d="M357.6 116.6 L359.8 115.9" fill="none" stroke="#000" stroke-width="1" />
<path d="M237.3 110.5 Q242.2 108 245.9 111.8 Q247.7 116.4 244.8 120.3 Q243.3 121.9 241 121.6" fill="none" stroke="#000" stroke-width="1.3" />
<ellipse cx="239.4" cy="116.4" rx="4" ry="4.7" fill="#fff" stroke="#000" stroke-width="1.6" transform="rotate(-10 239.4 116.4)"/>
<path d="M242.5 110.3 L243.8 110.8" fill="none" stroke="#000" stroke-width="0.8" />
<path d="M243.3 111.2 L244.5 112" fill="none" stroke="#000" stroke-width="0.8" />
<path d="M244.1 112.1 L245.1 113.1" fill="none" stroke="#000" stroke-width="0.8" />
<path d="M244.8 113 L245.7 114.3" fill="none" stroke="#000" stroke-width="0.8" />
<path d="M245.6 113.9 L246.4 115.5" fill="none" stroke="#000" stroke-width="0.8" />
<path d="M244.6 114.4 L246.1 114.4" fill="none" stroke="#000" stroke-width="0.8" />
<path d="M244.5 116 L245.7 115.9" fill="none" stroke="#000" stroke-width="0.8" />
<path d="M244.3 117.5 L245.4 117.3" fill="none" stroke="#000" stroke-width="0.8" />
<path d="M244.2 119.1 L245 118.7" fill="none" stroke="#000" stroke-width="0.8" />
<path d="M251.1 104.3 L251.3 101.5 L253.4 100.4 L255.7 101.5 L256.2 104.3" fill="none" stroke="#000" stroke-width="1.3" />
<path d="M253.9 105.1 Q259.1 104.7 261.2 109.5 Q261.9 114.4 258.1 116.8 Q255.8 117.3 253.9 116.4" fill="none" stroke="#000" stroke-width="1.3" />
<ellipse cx="252.9" cy="110.8" rx="4.5" ry="5.5" fill="#fff" stroke="#000" stroke-width="1.7" transform="rotate(-12 252.9 110.8)"/>
<ellipse cx="252.6" cy="110.9" rx="2.6" ry="3.4" fill="none" stroke="#000" stroke-width="1.3" transform="rotate(-12 252.6 110.9)"/>
<ellipse cx="253.4" cy="110.8" rx="1.2" ry="2.2" fill="none" stroke="#000" stroke-width="0.8" transform="rotate(-12 253.4 110.8)"/>
<path d="M256.8 105.9 L258.6 105.6" fill="none" stroke="#000" stroke-width="1" />
<path d="M257.4 107 L259 106.9" fill="none" stroke="#000" stroke-width="1" />
<path d="M258.1 108.2 L259.5 108.2" fill="none" stroke="#000" stroke-width="1" />
<path d="M258.7 109.4 L259.9 109.5" fill="none" stroke="#000" stroke-width="1" />
<path d="M259.3 110.5 L260.3 110.8" fill="none" stroke="#000" stroke-width="1" />
<path d="M260 111.7 L260.8 112.1" fill="none" stroke="#000" stroke-width="1" />
<path d="M314.8 141.2 L322 139.1 Q325.4 139.7 325.7 142.5 Q325.6 145 322.8 146.1 L317.8 148.2" fill="none" stroke="#000" stroke-width="1.3" />
<ellipse cx="316.4" cy="144.8" rx="2.6" ry="3.8" fill="#fff" stroke="#000" stroke-width="1.6" transform="rotate(-12 316.4 144.8)"/>
<ellipse cx="316.7" cy="144.8" rx="1.3" ry="2.2" fill="#888" stroke="#000" stroke-width="1" transform="rotate(-12 316.7 144.8)"/>
<path d="M319.6 140.2 L320.3 146.7" fill="none" stroke="#000" stroke-width="0.8" />
<path d="M468 33 L501.4 22.6 L583 56 L549 68Z" fill="none" stroke="#000" stroke-width="1.3" />
<path d="M468 34.8 L547.4 69.2" fill="none" stroke="#000" stroke-width="1" />
<path d="M468 33 L468 61.4" fill="none" stroke="#000" stroke-width="1.3" />
<path d="M465.4 34.2 L465.4 60.6" fill="none" stroke="#000" stroke-width="1.1" />
<path d="M465.4 34.2 L468 33" fill="none" stroke="#000" stroke-width="1" />
<path d="M465.4 60.6 L468 61.4" fill="none" stroke="#000" stroke-width="1" />
<path d="M465.4 35.8 L463 36.4 L463 39 L465.4 38.6" fill="none" stroke="#000" stroke-width="1.1" />
<path d="M465.4 54.6 L463 55.2 L463 58 L465.4 57.6" fill="none" stroke="#000" stroke-width="1.1" />
<path d="M468 61.4 L547 95.4" fill="none" stroke="#000" stroke-width="1.4" />
<path d="M468 59.4 L546.6 93" fill="none" stroke="#000" stroke-width="1" />
<path d="M549 68 L549 93.4" fill="none" stroke="#000" stroke-width="1.3" />
<path d="M546.6 69 L546.6 95.4 L549 93.4" fill="none" stroke="#000" stroke-width="1.2" />
<circle cx="547.8" cy="73.4" r="0.9" fill="#000" stroke="#000" stroke-width="0.6"/>
<circle cx="547.8" cy="79" r="0.9" fill="#000" stroke="#000" stroke-width="0.6"/>
<circle cx="547.8" cy="84.2" r="0.9" fill="#000" stroke="#000" stroke-width="0.6"/>
<circle cx="547.8" cy="89.8" r="0.9" fill="#000" stroke="#000" stroke-width="0.6"/>
<path d="M583 56 L583 79 L549 93.4" fill="none" stroke="#000" stroke-width="1.3" />
<path d="M473 35 L473 56" fill="none" stroke="#000" stroke-width="1" />
<path d="M473 56 L468 59.4" fill="none" stroke="#000" stroke-width="0.8" />
<path d="M473 56 L498 45.4" fill="none" stroke="#000" stroke-width="1" />
<path d="M498 45.4 L546.6 66.6" fill="none" stroke="#000" stroke-width="0" />
<path d="M474.2 39 L477 38.2 L477 43.4 L474.2 44.2Z" fill="none" stroke="#000" stroke-width="1" />
<path d="M473.4 49.4 L476.2 48.6 L476.2 53.4 L473.4 54.2Z" fill="none" stroke="#000" stroke-width="1" />
<path d="M481 45.4 L487.4 43" fill="none" stroke="#000" stroke-width="1.1" />
<path d="M470.2 41 L470.2 45" fill="none" stroke="#000" stroke-width="1.4" />
<path d="M470.2 47 L470.2 52" fill="none" stroke="#000" stroke-width="1.4" />
<path d="M500.6 26.2 L572 55.4 L571 57.7 L499.6 28.5Z" fill="none" stroke="#000" stroke-width="0.9" />
<path d="M498.6 33.8 L555 57 L554 59.3 L497.6 36.1Z" fill="none" stroke="#000" stroke-width="0.9" />
<path d="M499.4 57.8 L543 76.2 L542.1 78.3 L498.5 59.9Z" fill="none" stroke="#000" stroke-width="0.9" />
<path d="M497.8 63.4 L529.4 76.6 L528.5 78.7 L496.9 65.5Z" fill="none" stroke="#000" stroke-width="0.9" />
<path d="M482.6 32.6 L479.8 36.4" fill="none" stroke="#000" stroke-width="1.7" />
<path d="M484.5 33.4 L481.7 37.2" fill="none" stroke="#000" stroke-width="1.7" />
<path d="M486.4 34.2 L483.6 38" fill="none" stroke="#000" stroke-width="1.7" />
<path d="M488.3 35 L485.5 38.8" fill="none" stroke="#000" stroke-width="1.7" />
<path d="M490.2 35.8 L487.4 39.6" fill="none" stroke="#000" stroke-width="1.7" />
<path d="M492.1 36.6 L489.3 40.4" fill="none" stroke="#000" stroke-width="1.7" />
<path d="M494 37.4 L491.2 41.2" fill="none" stroke="#000" stroke-width="1.7" />
<circle cx="494.8" cy="40.2" r="1.3" fill="none" stroke="#000" stroke-width="1.1"/>
<path d="M499.8 39.8 L497 43.6" fill="none" stroke="#000" stroke-width="1.7" />
<path d="M501.7 40.6 L498.9 44.4" fill="none" stroke="#000" stroke-width="1.7" />
<path d="M503.6 41.4 L500.8 45.2" fill="none" stroke="#000" stroke-width="1.7" />
<path d="M505.5 42.2 L502.7 46" fill="none" stroke="#000" stroke-width="1.7" />
<path d="M507.4 43 L504.6 46.8" fill="none" stroke="#000" stroke-width="1.7" />
<path d="M509.3 43.8 L506.5 47.6" fill="none" stroke="#000" stroke-width="1.7" />
<path d="M511.2 44.6 L508.4 48.4" fill="none" stroke="#000" stroke-width="1.7" />
<circle cx="511.9" cy="47.4" r="1.3" fill="none" stroke="#000" stroke-width="1.1"/>
<path d="M516.9 47 L514.1 50.8" fill="none" stroke="#000" stroke-width="1.7" />
<path d="M518.8 47.8 L516 51.6" fill="none" stroke="#000" stroke-width="1.7" />
<path d="M520.8 48.6 L518 52.4" fill="none" stroke="#000" stroke-width="1.7" />
<path d="M522.7 49.4 L519.9 53.2" fill="none" stroke="#000" stroke-width="1.7" />
<path d="M524.6 50.2 L521.8 54" fill="none" stroke="#000" stroke-width="1.7" />
<path d="M526.5 51 L523.7 54.8" fill="none" stroke="#000" stroke-width="1.7" />
<path d="M528.4 51.8 L525.6 55.6" fill="none" stroke="#000" stroke-width="1.7" />
<circle cx="529.1" cy="54.6" r="1.3" fill="none" stroke="#000" stroke-width="1.1"/>
<path d="M534.1 54.2 L531.3 58" fill="none" stroke="#000" stroke-width="1.7" />
<path d="M536 55 L533.2 58.8" fill="none" stroke="#000" stroke-width="1.7" />
<path d="M537.9 55.8 L535.1 59.6" fill="none" stroke="#000" stroke-width="1.7" />
<path d="M539.8 56.6 L537 60.4" fill="none" stroke="#000" stroke-width="1.7" />
<path d="M541.7 57.4 L538.9 61.2" fill="none" stroke="#000" stroke-width="1.7" />
<path d="M543.6 58.2 L540.8 62" fill="none" stroke="#000" stroke-width="1.7" />
<path d="M545.6 59 L542.8 62.8" fill="none" stroke="#000" stroke-width="1.7" />
<circle cx="546.3" cy="61.8" r="1.3" fill="none" stroke="#000" stroke-width="1.1"/>
<path d="M551.3 61.4 L548.5 65.2" fill="none" stroke="#000" stroke-width="1.7" />
<path d="M553.2 62.2 L550.4 66" fill="none" stroke="#000" stroke-width="1.7" />
<path d="M555.1 63 L552.3 66.8" fill="none" stroke="#000" stroke-width="1.7" />
<path d="M557 63.8 L554.2 67.6" fill="none" stroke="#000" stroke-width="1.7" />
<path d="M480.6 55.8 L477.8 59.6" fill="none" stroke="#000" stroke-width="1.7" />
<path d="M482.4 56.6 L479.6 60.4" fill="none" stroke="#000" stroke-width="1.7" />
<path d="M484.2 57.4 L481.4 61.2" fill="none" stroke="#000" stroke-width="1.7" />
<path d="M486 58.1 L483.2 61.9" fill="none" stroke="#000" stroke-width="1.7" />
<path d="M487.8 58.9 L485 62.7" fill="none" stroke="#000" stroke-width="1.7" />
<path d="M489.6 59.7 L486.8 63.5" fill="none" stroke="#000" stroke-width="1.7" />
<path d="M491.4 60.5 L488.6 64.3" fill="none" stroke="#000" stroke-width="1.7" />
<circle cx="492" cy="63.2" r="1.3" fill="none" stroke="#000" stroke-width="1.1"/>
<path d="M496.8 62.8 L494 66.6" fill="none" stroke="#000" stroke-width="1.7" />
<path d="M498.5 63.6 L495.7 67.4" fill="none" stroke="#000" stroke-width="1.7" />
<path d="M500.3 64.4 L497.5 68.2" fill="none" stroke="#000" stroke-width="1.7" />
<path d="M502.1 65.1 L499.3 68.9" fill="none" stroke="#000" stroke-width="1.7" />
<path d="M503.9 65.9 L501.1 69.7" fill="none" stroke="#000" stroke-width="1.7" />
<path d="M505.7 66.7 L502.9 70.5" fill="none" stroke="#000" stroke-width="1.7" />
<path d="M507.5 67.5 L504.7 71.3" fill="none" stroke="#000" stroke-width="1.7" />
<circle cx="508.1" cy="70.3" r="1.3" fill="none" stroke="#000" stroke-width="1.1"/>
<path d="M512.9 69.8 L510.1 73.6" fill="none" stroke="#000" stroke-width="1.7" />
<path d="M514.7 70.6 L511.9 74.4" fill="none" stroke="#000" stroke-width="1.7" />
<path d="M516.5 71.4 L513.7 75.2" fill="none" stroke="#000" stroke-width="1.7" />
<path d="M518.3 72.1 L515.5 75.9" fill="none" stroke="#000" stroke-width="1.7" />
<path d="M520.1 72.9 L517.3 76.7" fill="none" stroke="#000" stroke-width="1.7" />
<path d="M521.9 73.7 L519.1 77.5" fill="none" stroke="#000" stroke-width="1.7" />
<path d="M523.7 74.5 L520.9 78.3" fill="none" stroke="#000" stroke-width="1.7" />
<circle cx="524.3" cy="77.3" r="1.3" fill="none" stroke="#000" stroke-width="1.1"/>
<path d="M529.1 76.8 L526.3 80.6" fill="none" stroke="#000" stroke-width="1.7" />
<path d="M530.8 77.6 L528 81.4" fill="none" stroke="#000" stroke-width="1.7" />
<path d="M532.6 78.4 L529.8 82.2" fill="none" stroke="#000" stroke-width="1.7" />
<path d="M534.4 79.2 L531.6 83" fill="none" stroke="#000" stroke-width="1.7" />
<path d="M536.2 79.9 L533.4 83.7" fill="none" stroke="#000" stroke-width="1.7" />
<path d="M538 80.7 L535.2 84.5" fill="none" stroke="#000" stroke-width="1.7" />
<path d="M539.8 81.5 L537 85.3" fill="none" stroke="#000" stroke-width="1.7" />
<circle cx="540.4" cy="84.3" r="1.3" fill="none" stroke="#000" stroke-width="1.1"/>
<path d="M545.2 83.8 L542.4 87.6" fill="none" stroke="#000" stroke-width="1.7" />
<path d="M547 84.6 L544.2 88.4" fill="none" stroke="#000" stroke-width="1.7" />
<ellipse cx="557" cy="75" rx="1.1" ry="2.6" fill="none" stroke="#000" stroke-width="1.1" transform="rotate(0 557 75)"/>
<ellipse cx="556.2" cy="84.8" rx="1.1" ry="2.6" fill="none" stroke="#000" stroke-width="1.1" transform="rotate(0 556.2 84.8)"/>
<path d="M561.4 73.4 L567 73 L574.6 70.2 L574.6 75.8 L567 75 L561.4 75.4Z" fill="none" stroke="#000" stroke-width="1" />
<path d="M570 72 L573 71.2 L573 75 L570 75Z" fill="none" stroke="#000" stroke-width="1" />
<path d="M561 81 L569 77.4" fill="none" stroke="#000" stroke-width="1" />
<ellipse cx="579" cy="72" rx="1.3" ry="6" fill="none" stroke="#000" stroke-width="1.1" transform="rotate(0 579 72)"/>
<circle cx="563" cy="68.2" r="0.8" fill="none" stroke="#000" stroke-width="0.7"/>
<circle cx="581" cy="61.4" r="0.8" fill="none" stroke="#000" stroke-width="0.7"/>
<circle cx="552" cy="72" r="0.8" fill="none" stroke="#000" stroke-width="0.7"/>
<path d="M291 276 L324.4 265.6 L406 299 L372 311Z" fill="none" stroke="#000" stroke-width="1.3" />
<path d="M291 277.8 L370.4 312.2" fill="none" stroke="#000" stroke-width="1" />
<path d="M291 276 L291 304.4" fill="none" stroke="#000" stroke-width="1.3" />
<path d="M288.4 277.2 L288.4 303.6" fill="none" stroke="#000" stroke-width="1.1" />
<path d="M288.4 277.2 L291 276" fill="none" stroke="#000" stroke-width="1" />
<path d="M288.4 303.6 L291 304.4" fill="none" stroke="#000" stroke-width="1" />
<path d="M288.4 278.8 L286 279.4 L286 282 L288.4 281.6" fill="none" stroke="#000" stroke-width="1.1" />
<path d="M288.4 297.6 L286 298.2 L286 301 L288.4 300.6" fill="none" stroke="#000" stroke-width="1.1" />
<path d="M291 304.4 L370 338.4" fill="none" stroke="#000" stroke-width="1.4" />
<path d="M291 302.4 L369.6 336" fill="none" stroke="#000" stroke-width="1" />
<path d="M372 311 L372 336.4" fill="none" stroke="#000" stroke-width="1.3" />
<path d="M369.6 312 L369.6 338.4 L372 336.4" fill="none" stroke="#000" stroke-width="1.2" />
<circle cx="370.8" cy="316.4" r="0.9" fill="#000" stroke="#000" stroke-width="0.6"/>
<circle cx="370.8" cy="322" r="0.9" fill="#000" stroke="#000" stroke-width="0.6"/>
<circle cx="370.8" cy="327.2" r="0.9" fill="#000" stroke="#000" stroke-width="0.6"/>
<circle cx="370.8" cy="332.8" r="0.9" fill="#000" stroke="#000" stroke-width="0.6"/>
<path d="M406 299 L406 322 L372 336.4" fill="none" stroke="#000" stroke-width="1.3" />
<path d="M296 278 L296 299" fill="none" stroke="#000" stroke-width="1" />
<path d="M296 299 L291 302.4" fill="none" stroke="#000" stroke-width="0.8" />
<path d="M296 299 L321 288.4" fill="none" stroke="#000" stroke-width="1" />
<path d="M321 288.4 L369.6 309.6" fill="none" stroke="#000" stroke-width="0" />
<path d="M297.2 282 L300 281.2 L300 286.4 L297.2 287.2Z" fill="none" stroke="#000" stroke-width="1" />
<path d="M296.4 292.4 L299.2 291.6 L299.2 296.4 L296.4 297.2Z" fill="none" stroke="#000" stroke-width="1" />
<path d="M304 288.4 L310.4 286" fill="none" stroke="#000" stroke-width="1.1" />
<path d="M293.2 284 L293.2 288" fill="none" stroke="#000" stroke-width="1.4" />
<path d="M293.2 290 L293.2 295" fill="none" stroke="#000" stroke-width="1.4" />
<path d="M323.6 269.2 L395 298.4 L394 300.7 L322.6 271.5Z" fill="none" stroke="#000" stroke-width="0.9" />
<path d="M321.6 276.8 L378 300 L377 302.3 L320.6 279.1Z" fill="none" stroke="#000" stroke-width="0.9" />
<path d="M322.4 300.8 L366 319.2 L365.1 321.3 L321.5 302.9Z" fill="none" stroke="#000" stroke-width="0.9" />
<path d="M320.8 306.4 L352.4 319.6 L351.5 321.7 L319.9 308.5Z" fill="none" stroke="#000" stroke-width="0.9" />
<path d="M305.6 275.6 L302.8 279.4" fill="none" stroke="#000" stroke-width="1.7" />
<path d="M307.5 276.4 L304.7 280.2" fill="none" stroke="#000" stroke-width="1.7" />
<path d="M309.4 277.2 L306.6 281" fill="none" stroke="#000" stroke-width="1.7" />
<path d="M311.3 278 L308.5 281.8" fill="none" stroke="#000" stroke-width="1.7" />
<path d="M313.2 278.8 L310.4 282.6" fill="none" stroke="#000" stroke-width="1.7" />
<path d="M315.1 279.6 L312.3 283.4" fill="none" stroke="#000" stroke-width="1.7" />
<path d="M317 280.4 L314.2 284.2" fill="none" stroke="#000" stroke-width="1.7" />
<circle cx="317.8" cy="283.2" r="1.3" fill="none" stroke="#000" stroke-width="1.1"/>
<path d="M322.8 282.8 L320 286.6" fill="none" stroke="#000" stroke-width="1.7" />
<path d="M324.7 283.6 L321.9 287.4" fill="none" stroke="#000" stroke-width="1.7" />
<path d="M326.6 284.4 L323.8 288.2" fill="none" stroke="#000" stroke-width="1.7" />
<path d="M328.5 285.2 L325.7 289" fill="none" stroke="#000" stroke-width="1.7" />
<path d="M330.4 286 L327.6 289.8" fill="none" stroke="#000" stroke-width="1.7" />
<path d="M332.3 286.8 L329.5 290.6" fill="none" stroke="#000" stroke-width="1.7" />
<path d="M334.2 287.6 L331.4 291.4" fill="none" stroke="#000" stroke-width="1.7" />
<circle cx="334.9" cy="290.4" r="1.3" fill="none" stroke="#000" stroke-width="1.1"/>
<path d="M339.9 290 L337.1 293.8" fill="none" stroke="#000" stroke-width="1.7" />
<path d="M341.8 290.8 L339 294.6" fill="none" stroke="#000" stroke-width="1.7" />
<path d="M343.8 291.6 L341 295.4" fill="none" stroke="#000" stroke-width="1.7" />
<path d="M345.7 292.4 L342.9 296.2" fill="none" stroke="#000" stroke-width="1.7" />
<path d="M347.6 293.2 L344.8 297" fill="none" stroke="#000" stroke-width="1.7" />
<path d="M349.5 294 L346.7 297.8" fill="none" stroke="#000" stroke-width="1.7" />
<path d="M351.4 294.8 L348.6 298.6" fill="none" stroke="#000" stroke-width="1.7" />
<circle cx="352.1" cy="297.6" r="1.3" fill="none" stroke="#000" stroke-width="1.1"/>
<path d="M357.1 297.2 L354.3 301" fill="none" stroke="#000" stroke-width="1.7" />
<path d="M359 298 L356.2 301.8" fill="none" stroke="#000" stroke-width="1.7" />
<path d="M360.9 298.8 L358.1 302.6" fill="none" stroke="#000" stroke-width="1.7" />
<path d="M362.8 299.6 L360 303.4" fill="none" stroke="#000" stroke-width="1.7" />
<path d="M364.7 300.4 L361.9 304.2" fill="none" stroke="#000" stroke-width="1.7" />
<path d="M366.6 301.2 L363.8 305" fill="none" stroke="#000" stroke-width="1.7" />
<path d="M368.6 302 L365.8 305.8" fill="none" stroke="#000" stroke-width="1.7" />
<circle cx="369.3" cy="304.8" r="1.3" fill="none" stroke="#000" stroke-width="1.1"/>
<path d="M374.3 304.4 L371.5 308.2" fill="none" stroke="#000" stroke-width="1.7" />
<path d="M376.2 305.2 L373.4 309" fill="none" stroke="#000" stroke-width="1.7" />
<path d="M378.1 306 L375.3 309.8" fill="none" stroke="#000" stroke-width="1.7" />
<path d="M380 306.8 L377.2 310.6" fill="none" stroke="#000" stroke-width="1.7" />
<path d="M303.6 298.8 L300.8 302.6" fill="none" stroke="#000" stroke-width="1.7" />
<path d="M305.4 299.6 L302.6 303.4" fill="none" stroke="#000" stroke-width="1.7" />
<path d="M307.2 300.4 L304.4 304.2" fill="none" stroke="#000" stroke-width="1.7" />
<path d="M309 301.1 L306.2 304.9" fill="none" stroke="#000" stroke-width="1.7" />
<path d="M310.8 301.9 L308 305.7" fill="none" stroke="#000" stroke-width="1.7" />
<path d="M312.6 302.7 L309.8 306.5" fill="none" stroke="#000" stroke-width="1.7" />
<path d="M314.4 303.5 L311.6 307.3" fill="none" stroke="#000" stroke-width="1.7" />
<circle cx="315" cy="306.2" r="1.3" fill="none" stroke="#000" stroke-width="1.1"/>
<path d="M319.8 305.8 L317 309.6" fill="none" stroke="#000" stroke-width="1.7" />
<path d="M321.5 306.6 L318.7 310.4" fill="none" stroke="#000" stroke-width="1.7" />
<path d="M323.3 307.4 L320.5 311.2" fill="none" stroke="#000" stroke-width="1.7" />
<path d="M325.1 308.1 L322.3 311.9" fill="none" stroke="#000" stroke-width="1.7" />
<path d="M326.9 308.9 L324.1 312.7" fill="none" stroke="#000" stroke-width="1.7" />
<path d="M328.7 309.7 L325.9 313.5" fill="none" stroke="#000" stroke-width="1.7" />
<path d="M330.5 310.5 L327.7 314.3" fill="none" stroke="#000" stroke-width="1.7" />
<circle cx="331.1" cy="313.3" r="1.3" fill="none" stroke="#000" stroke-width="1.1"/>
<path d="M335.9 312.8 L333.1 316.6" fill="none" stroke="#000" stroke-width="1.7" />
<path d="M337.7 313.6 L334.9 317.4" fill="none" stroke="#000" stroke-width="1.7" />
<path d="M339.5 314.4 L336.7 318.2" fill="none" stroke="#000" stroke-width="1.7" />
<path d="M341.3 315.1 L338.5 318.9" fill="none" stroke="#000" stroke-width="1.7" />
<path d="M343.1 315.9 L340.3 319.7" fill="none" stroke="#000" stroke-width="1.7" />
<path d="M344.9 316.7 L342.1 320.5" fill="none" stroke="#000" stroke-width="1.7" />
<path d="M346.7 317.5 L343.9 321.3" fill="none" stroke="#000" stroke-width="1.7" />
<circle cx="347.3" cy="320.3" r="1.3" fill="none" stroke="#000" stroke-width="1.1"/>
<path d="M352.1 319.8 L349.3 323.6" fill="none" stroke="#000" stroke-width="1.7" />
<path d="M353.8 320.6 L351 324.4" fill="none" stroke="#000" stroke-width="1.7" />
<path d="M355.6 321.4 L352.8 325.2" fill="none" stroke="#000" stroke-width="1.7" />
<path d="M357.4 322.2 L354.6 326" fill="none" stroke="#000" stroke-width="1.7" />
<path d="M359.2 322.9 L356.4 326.7" fill="none" stroke="#000" stroke-width="1.7" />
<path d="M361 323.7 L358.2 327.5" fill="none" stroke="#000" stroke-width="1.7" />
<path d="M362.8 324.5 L360 328.3" fill="none" stroke="#000" stroke-width="1.7" />
<circle cx="363.4" cy="327.3" r="1.3" fill="none" stroke="#000" stroke-width="1.1"/>
<path d="M368.2 326.8 L365.4 330.6" fill="none" stroke="#000" stroke-width="1.7" />
<path d="M370 327.6 L367.2 331.4" fill="none" stroke="#000" stroke-width="1.7" />
<ellipse cx="380" cy="318" rx="1.1" ry="2.6" fill="none" stroke="#000" stroke-width="1.1" transform="rotate(0 380 318)"/>
<ellipse cx="379.2" cy="327.8" rx="1.1" ry="2.6" fill="none" stroke="#000" stroke-width="1.1" transform="rotate(0 379.2 327.8)"/>
<path d="M384.4 316.4 L390 316 L397.6 313.2 L397.6 318.8 L390 318 L384.4 318.4Z" fill="none" stroke="#000" stroke-width="1" />
<path d="M393 315 L396 314.2 L396 318 L393 318Z" fill="none" stroke="#000" stroke-width="1" />
<path d="M384 324 L392 320.4" fill="none" stroke="#000" stroke-width="1" />
<ellipse cx="402" cy="315" rx="1.3" ry="6" fill="none" stroke="#000" stroke-width="1.1" transform="rotate(0 402 315)"/>
<circle cx="386" cy="311.2" r="0.8" fill="none" stroke="#000" stroke-width="0.7"/>
<circle cx="404" cy="304.4" r="0.8" fill="none" stroke="#000" stroke-width="0.7"/>
<circle cx="375" cy="315" r="0.8" fill="none" stroke="#000" stroke-width="0.7"/>
<path d="M598.9 81.4 L664.3 59.9 L697.8 72.9 L702.3 71.1 L751.4 91.9 L678.4 114.9" fill="none" stroke="#000" stroke-width="1.3" />
<path d="M751.4 91.9 L751.4 113.3 L678.4 144.4" fill="none" stroke="#000" stroke-width="1.3" />
<path d="M749.9 93 L749.9 113.5" fill="none" stroke="#000" stroke-width="0.8" />
<path d="M658.7 61.7 L692.7 75.1 L697.8 72.9" fill="none" stroke="#000" stroke-width="1" />
<path d="M692.7 75.1 L741.4 94.8 L751.4 91.9" fill="none" stroke="#000" stroke-width="1" />
<path d="M662.1 68.9 L724 93.4 L738.7 88.5" fill="none" stroke="#000" stroke-width="1.1" />
<path d="M662.1 71.1 L662.1 68.9" fill="none" stroke="#000" stroke-width="1" />
<path d="M662.1 71.1 L723.1 96.1 L740 90.7 L738.7 88.5" fill="none" stroke="#000" stroke-width="1.1" />
<path d="M686.7 73.3 L691.8 72 L694 73.3 L688.9 74.9Z" fill="none" stroke="#000" stroke-width="1" />
<circle cx="709.2" cy="77.3" r="1.7" fill="#666" stroke="#000" stroke-width="1"/>
<circle cx="721.5" cy="83.2" r="1.7" fill="#666" stroke="#000" stroke-width="1"/>
<path d="M735.8 95.7 L740.3 94.3 L741.8 96.1 L737.4 97.4Z" fill="none" stroke="#000" stroke-width="1" />
<path d="M729.8 86.3 L734.2 84.7" fill="none" stroke="#000" stroke-width="1.2" />
<path d="M618.5 75.6 L619.4 74.7 L620.5 74.9" fill="none" stroke="#000" stroke-width="0.8" />
<path d="M620.7 74.7 L621.6 73.8 L622.8 74" fill="none" stroke="#000" stroke-width="0.8" />
<path d="M645.3 66.2 L646.2 65.3 L647.3 65.5" fill="none" stroke="#000" stroke-width="0.8" />
<path d="M648 65.3 L648.9 64.4 L650 64.6" fill="none" stroke="#000" stroke-width="0.8" />
<circle cx="635.3" cy="77.8" r="0.8" fill="#000" stroke="#000" stroke-width="0.6"/>
<circle cx="635.3" cy="81.4" r="0.8" fill="#000" stroke="#000" stroke-width="0.6"/>
<circle cx="640.4" cy="76.2" r="0.8" fill="#000" stroke="#000" stroke-width="0.6"/>
<circle cx="640.9" cy="79.6" r="0.8" fill="#000" stroke="#000" stroke-width="0.6"/>
<circle cx="641.3" cy="83.2" r="0.8" fill="#000" stroke="#000" stroke-width="0.6"/>
<circle cx="645.8" cy="74.7" r="0.8" fill="#000" stroke="#000" stroke-width="0.6"/>
<circle cx="645.8" cy="78.2" r="0.8" fill="#000" stroke="#000" stroke-width="0.6"/>
<circle cx="645.3" cy="81.8" r="0.8" fill="#000" stroke="#000" stroke-width="0.6"/>
<circle cx="651.1" cy="72" r="0.8" fill="#000" stroke="#000" stroke-width="0.6"/>
<circle cx="651.1" cy="75.6" r="0.8" fill="#000" stroke="#000" stroke-width="0.6"/>
<circle cx="650.7" cy="79.1" r="0.8" fill="#000" stroke="#000" stroke-width="0.6"/>
<circle cx="656" cy="76.4" r="0.8" fill="#000" stroke="#000" stroke-width="0.6"/>
<circle cx="655.6" cy="80" r="0.8" fill="#000" stroke="#000" stroke-width="0.6"/>
<circle cx="658.7" cy="76.9" r="0.8" fill="#000" stroke="#000" stroke-width="0.6"/>
<circle cx="652" cy="81.8" r="0.8" fill="#000" stroke="#000" stroke-width="0.6"/>
<circle cx="646.7" cy="84" r="0.8" fill="#000" stroke="#000" stroke-width="0.6"/>
<circle cx="652" cy="91.9" r="0.8" fill="#000" stroke="#000" stroke-width="0.6"/>
<circle cx="656.9" cy="90.7" r="0.8" fill="#000" stroke="#000" stroke-width="0.6"/>
<circle cx="656.9" cy="94.3" r="0.8" fill="#000" stroke="#000" stroke-width="0.6"/>
<circle cx="662.1" cy="93.4" r="0.8" fill="#000" stroke="#000" stroke-width="0.6"/>
<circle cx="662.7" cy="96.6" r="0.8" fill="#000" stroke="#000" stroke-width="0.6"/>
<circle cx="668.1" cy="95.2" r="0.8" fill="#000" stroke="#000" stroke-width="0.6"/>
<circle cx="668.1" cy="98.8" r="0.8" fill="#000" stroke="#000" stroke-width="0.6"/>
<circle cx="673.5" cy="94.3" r="0.8" fill="#000" stroke="#000" stroke-width="0.6"/>
<circle cx="673.5" cy="97.9" r="0.8" fill="#000" stroke="#000" stroke-width="0.6"/>
<circle cx="673.9" cy="101" r="0.8" fill="#000" stroke="#000" stroke-width="0.6"/>
<circle cx="678.8" cy="93.4" r="0.8" fill="#000" stroke="#000" stroke-width="0.6"/>
<circle cx="678.4" cy="97" r="0.8" fill="#000" stroke="#000" stroke-width="0.6"/>
<circle cx="682.4" cy="95.7" r="0.8" fill="#000" stroke="#000" stroke-width="0.6"/>
<circle cx="681.5" cy="99.2" r="0.8" fill="#000" stroke="#000" stroke-width="0.6"/>
<circle cx="702.3" cy="99.7" r="0.8" fill="#000" stroke="#000" stroke-width="0.6"/>
<circle cx="701.6" cy="102.8" r="0.8" fill="#000" stroke="#000" stroke-width="0.6"/>
<circle cx="706.8" cy="97.9" r="0.8" fill="#000" stroke="#000" stroke-width="0.6"/>
<circle cx="706.8" cy="101" r="0.8" fill="#000" stroke="#000" stroke-width="0.6"/>
<circle cx="711.5" cy="96.1" r="0.8" fill="#000" stroke="#000" stroke-width="0.6"/>
<circle cx="711.5" cy="99.2" r="0.8" fill="#000" stroke="#000" stroke-width="0.6"/>
<circle cx="715.7" cy="94.8" r="0.8" fill="#000" stroke="#000" stroke-width="0.6"/>
<circle cx="715.9" cy="97.9" r="0.8" fill="#000" stroke="#000" stroke-width="0.6"/>
<circle cx="667.2" cy="75.6" r="0.7" fill="#000" stroke="#000" stroke-width="0.6"/>
<circle cx="673.9" cy="78.2" r="0.7" fill="#000" stroke="#000" stroke-width="0.6"/>
<circle cx="680.2" cy="80.9" r="0.7" fill="#000" stroke="#000" stroke-width="0.6"/>
<circle cx="686" cy="83.2" r="0.7" fill="#000" stroke="#000" stroke-width="0.6"/>
<circle cx="691.8" cy="85.6" r="0.7" fill="#000" stroke="#000" stroke-width="0.6"/>
<circle cx="697.6" cy="88.1" r="0.7" fill="#000" stroke="#000" stroke-width="0.6"/>
<circle cx="719" cy="104.6" r="0.6" fill="#000" stroke="#000" stroke-width="0.6"/>
<circle cx="723.1" cy="103.3" r="0.6" fill="#000" stroke="#000" stroke-width="0.6"/>
<path d="M588.4 81.8 L588.4 112 L673.2 145.3 L673.2 115.8" fill="none" stroke="#000" stroke-width="1.6" />
<path d="M588.4 81.8 L592.1 80.2 L678.4 113.5 L678.4 115.1 L672.6 117.6 L591.7 85.4Z" fill="#4a4a4a" stroke="#000" stroke-width="1"/>
<path d="M593.9 82.7 L593.3 85.4" fill="none" stroke="#bbb" stroke-width="0.6" />
<path d="M596.7 83.8 L596 86.4" fill="none" stroke="#bbb" stroke-width="0.6" />
<path d="M599.4 84.8 L598.7 87.5" fill="none" stroke="#bbb" stroke-width="0.6" />
<path d="M602.1 85.9 L601.4 88.5" fill="none" stroke="#bbb" stroke-width="0.6" />
<path d="M604.8 86.9 L604.2 89.6" fill="none" stroke="#bbb" stroke-width="0.6" />
<path d="M607.6 88 L606.9 90.7" fill="none" stroke="#bbb" stroke-width="0.6" />
<path d="M610.3 89 L609.6 91.7" fill="none" stroke="#bbb" stroke-width="0.6" />
<path d="M613 90.1 L612.3 92.8" fill="none" stroke="#bbb" stroke-width="0.6" />
<path d="M615.7 91.1 L615.1 93.8" fill="none" stroke="#bbb" stroke-width="0.6" />
<path d="M618.5 92.2 L617.8 94.9" fill="none" stroke="#bbb" stroke-width="0.6" />
<path d="M621.2 93.2 L620.5 95.9" fill="none" stroke="#bbb" stroke-width="0.6" />
<path d="M623.9 94.3 L623.2 97" fill="none" stroke="#bbb" stroke-width="0.6" />
<path d="M626.6 95.4 L626 98" fill="none" stroke="#bbb" stroke-width="0.6" />
<path d="M629.4 96.4 L628.7 99.1" fill="none" stroke="#bbb" stroke-width="0.6" />
<path d="M632.1 97.5 L631.4 100.1" fill="none" stroke="#bbb" stroke-width="0.6" />
<path d="M634.8 98.5 L634.2 101.2" fill="none" stroke="#bbb" stroke-width="0.6" />
<path d="M637.5 99.6 L636.9 102.3" fill="none" stroke="#bbb" stroke-width="0.6" />
<path d="M640.3 100.6 L639.6 103.3" fill="none" stroke="#bbb" stroke-width="0.6" />
<path d="M643 101.7 L642.3 104.4" fill="none" stroke="#bbb" stroke-width="0.6" />
<path d="M645.7 102.7 L645.1 105.4" fill="none" stroke="#bbb" stroke-width="0.6" />
<path d="M648.4 103.8 L647.8 106.5" fill="none" stroke="#bbb" stroke-width="0.6" />
<path d="M651.2 104.8 L650.5 107.5" fill="none" stroke="#bbb" stroke-width="0.6" />
<path d="M653.9 105.9 L653.2 108.6" fill="none" stroke="#bbb" stroke-width="0.6" />
<path d="M656.6 107 L656 109.6" fill="none" stroke="#bbb" stroke-width="0.6" />
<path d="M659.4 108 L658.7 110.7" fill="none" stroke="#bbb" stroke-width="0.6" />
<path d="M662.1 109.1 L661.4 111.7" fill="none" stroke="#bbb" stroke-width="0.6" />
<path d="M664.8 110.1 L664.1 112.8" fill="none" stroke="#bbb" stroke-width="0.6" />
<path d="M667.5 111.2 L666.9 113.9" fill="none" stroke="#bbb" stroke-width="0.6" />
<path d="M670.3 112.2 L669.6 114.9" fill="none" stroke="#bbb" stroke-width="0.6" />
<path d="M673 113.3 L672.3 116" fill="none" stroke="#bbb" stroke-width="0.6" />
<path d="M678.4 114.9 L678.4 143.9 L673.2 145.7" fill="none" stroke="#000" stroke-width="1.3" />
<path d="M671.7 117.1 L678.2 114.4 L678.2 142.6 L673.2 145 L671.7 143.9Z" fill="#8a8a8a" stroke="#000" stroke-width="0.9"/>
<path d="M674.8 115.8 L674.8 143.9" fill="none" stroke="#000" stroke-width="0.8" />
<path d="M676.6 115.3 L676.6 143.5" fill="none" stroke="#000" stroke-width="0.6" />
<path d="M591.7 85.4 L591.7 110 L670.8 140.8 L670.8 118" fill="none" stroke="#000" stroke-width="1.1" />
<path d="M595.1 88.5 L595.1 108.6" fill="none" stroke="#000" stroke-width="1" />
<path d="M598.4 88.5 L598.4 106.8 L595.1 108.6" fill="none" stroke="#000" stroke-width="1" />
<path d="M605.1 90.7 L605.1 111.3" fill="none" stroke="#000" stroke-width="1.1" />
<path d="M605.1 111.3 L671 138.1" fill="none" stroke="#000" stroke-width="0" />
<path d="M596.2 94.8 L597.5 95.2 L597.5 99.7 L596.2 99.2Z" fill="none" stroke="#000" stroke-width="0.8" />
<path d="M598.4 100.8 L602 102.1 L602 104.6" fill="none" stroke="#000" stroke-width="1" />
<path d="M615.2 95.7 L615.2 101.5 L642.6 112.6 L642.6 114.9 L649.8 114.9 L649.8 110" fill="none" stroke="#000" stroke-width="1.1" />
<path d="M618.5 97.9 L618.5 100.6 L645.3 111.3" fill="none" stroke="#000" stroke-width="1" />
<path d="M618.5 97.9 L620.7 98.8" fill="none" stroke="#000" stroke-width="1" />
<circle cx="611.8" cy="107.3" r="1.6" fill="none" stroke="#000" stroke-width="1"/>
<circle cx="611.8" cy="107.3" r="0.7" fill="#000" stroke="#000" stroke-width="0.6"/>
<ellipse cx="665.4" cy="118.9" rx="1.5" ry="1" fill="none" stroke="#000" stroke-width="1" transform="rotate(20 665.4 118.9)"/>
<ellipse cx="665.4" cy="131.4" rx="1.5" ry="1" fill="none" stroke="#000" stroke-width="1" transform="rotate(20 665.4 131.4)"/>
<path d="M663.6 122 L667.2 123.4 L667.2 128.7 L663.6 127.4Z" fill="none" stroke="#000" stroke-width="0.8" />
<path d="M664.8 122.9 L664.8 127.8" fill="none" stroke="#000" stroke-width="0.7" />
<path d="M666.1 123.4 L666.1 128.3" fill="none" stroke="#000" stroke-width="0.7" />
<path d="M679.7 116.2 L694.9 110 L694.9 112.2 L710.1 105.9 L710.1 108.2 L728 100.8 L728 98.8 L741.4 93.4 L741.4 95.7 L750.8 92.5" fill="none" stroke="#000" stroke-width="1" />
<path d="M696.7 112.2 L701.2 110.4 L701.2 108.6 L696.7 110.4Z" fill="none" stroke="#000" stroke-width="0.8" />
<path d="M719 104.6 L725.8 101.9 L725.8 103.3 L719 105.9Z" fill="none" stroke="#000" stroke-width="0.8" />
<path d="M681.5 120.7 L691.8 116.7 L691.8 130.1 L681.5 134.5Z" fill="none" stroke="#000" stroke-width="1.1" />
<path d="M683.3 121.6 L690 118.9 L690 122 L683.3 124.7" fill="none" stroke="#000" stroke-width="0.8" />
<circle cx="687.3" cy="128.7" r="1.8" fill="none" stroke="#000" stroke-width="1"/>
<path d="M691.8 122 L693.6 121.4 L693.6 131 L691.8 131.9" fill="none" stroke="#000" stroke-width="0.8" />
<path d="M703.4 118 L709.2 115.8 L709.2 121.6 L703.4 123.8Z" fill="none" stroke="#000" stroke-width="1.1" />
<path d="M705.2 118.4 L705.2 122.5" fill="none" stroke="#000" stroke-width="0.8" />
<path d="M707.4 117.6 L707.4 121.6" fill="none" stroke="#000" stroke-width="0.8" />
<circle cx="697.8" cy="121.1" r="0.6" fill="#000" stroke="#000" stroke-width="0.6"/>
<circle cx="698.5" cy="125.6" r="0.6" fill="#000" stroke="#000" stroke-width="0.6"/>
<circle cx="696.3" cy="126.9" r="0.6" fill="#000" stroke="#000" stroke-width="0.6"/>
<circle cx="701.2" cy="126.9" r="0.6" fill="#000" stroke="#000" stroke-width="0.6"/>
<circle cx="705.6" cy="126" r="0.6" fill="#000" stroke="#000" stroke-width="0.6"/>
<circle cx="713.5" cy="122" r="0.6" fill="#000" stroke="#000" stroke-width="0.6"/>
<circle cx="716.8" cy="120.2" r="0.6" fill="#000" stroke="#000" stroke-width="0.6"/>
<circle cx="720.4" cy="112.6" r="0.6" fill="#000" stroke="#000" stroke-width="0.6"/>
<circle cx="722.6" cy="119.3" r="0.6" fill="#000" stroke="#000" stroke-width="0.6"/>
<circle cx="732.5" cy="106.8" r="0.6" fill="#000" stroke="#000" stroke-width="0.6"/>
<circle cx="736" cy="108.2" r="0.6" fill="#000" stroke="#000" stroke-width="0.6"/>
<circle cx="739.2" cy="104.6" r="0.6" fill="#000" stroke="#000" stroke-width="0.6"/>
<circle cx="742.3" cy="99.7" r="0.6" fill="#000" stroke="#000" stroke-width="0.6"/>
<circle cx="745.9" cy="98.8" r="0.6" fill="#000" stroke="#000" stroke-width="0.6"/>
<circle cx="747" cy="101.9" r="0.6" fill="#000" stroke="#000" stroke-width="0.6"/>
<ellipse cx="711.9" cy="126" rx="1.6" ry="1" fill="none" stroke="#000" stroke-width="0.8" transform="rotate(-25 711.9 126)"/>
<ellipse cx="725.8" cy="122" rx="1.6" ry="0.9" fill="none" stroke="#000" stroke-width="0.8" transform="rotate(-25 725.8 122)"/>
<path d="M728 114.9 L731.1 113.8" fill="none" stroke="#000" stroke-width="1.1" />
<path d="M734.2 112.6 L737.4 111.5" fill="none" stroke="#000" stroke-width="1.1" />
<path d="M740.5 110 L743.6 108.8" fill="none" stroke="#000" stroke-width="1.1" />
<path d="M728 118 L731.1 116.9" fill="none" stroke="#000" stroke-width="1.1" />
<path d="M734.2 115.3 L737.4 114.2" fill="none" stroke="#000" stroke-width="1.1" />
<path d="M740.5 112.6 L743.6 111.5" fill="none" stroke="#000" stroke-width="1.1" />
<path d="M744.7 106.4 L747.9 105.3" fill="none" stroke="#000" stroke-width="1.1" />
<path d="M744.7 109.1 L747.9 107.9" fill="none" stroke="#000" stroke-width="1.1" />
<path d="M749.2 95.2 L749.2 103 L751.4 102.4" fill="none" stroke="#000" stroke-width="0.8" />
<path d="M421.3 327 L486.7 305.5 L520.2 319.7 L524.7 318.1 L573.8 340.6 L500.8 361" fill="none" stroke="#000" stroke-width="1.3" />
<path d="M573.8 340.6 L573.8 362 L500.8 390.5" fill="none" stroke="#000" stroke-width="1.3" />
<path d="M572.3 341.7 L572.3 362.2" fill="none" stroke="#000" stroke-width="0.8" />
<path d="M481.1 307.3 L515.1 321.7 L520.2 319.7" fill="none" stroke="#000" stroke-width="1" />
<path d="M515.1 321.7 L563.8 343.1 L573.8 340.6" fill="none" stroke="#000" stroke-width="1" />
<path d="M484.5 314.5 L546.4 341.2 L561.1 336.8" fill="none" stroke="#000" stroke-width="1.1" />
<path d="M484.5 316.7 L484.5 314.5" fill="none" stroke="#000" stroke-width="1" />
<path d="M484.5 316.7 L545.5 343.8 L562.4 339.1 L561.1 336.8" fill="none" stroke="#000" stroke-width="1.1" />
<path d="M509.1 319.7 L514.2 318.6 L516.4 320 L511.3 321.4Z" fill="none" stroke="#000" stroke-width="1" />
<circle cx="531.6" cy="324.6" r="1.7" fill="#666" stroke="#000" stroke-width="1"/>
<circle cx="543.9" cy="330.8" r="1.7" fill="#666" stroke="#000" stroke-width="1"/>
<path d="M558.2 343.8 L562.7 342.7 L564.2 344.5 L559.8 345.7Z" fill="none" stroke="#000" stroke-width="1" />
<path d="M552.2 334.2 L556.6 332.8" fill="none" stroke="#000" stroke-width="1.2" />
<path d="M440.9 321.2 L441.8 320.3 L442.9 320.5" fill="none" stroke="#000" stroke-width="0.8" />
<path d="M443.1 320.3 L444 319.4 L445.2 319.6" fill="none" stroke="#000" stroke-width="0.8" />
<path d="M467.7 311.8 L468.6 310.9 L469.7 311.1" fill="none" stroke="#000" stroke-width="0.8" />
<path d="M470.4 310.9 L471.3 310 L472.4 310.2" fill="none" stroke="#000" stroke-width="0.8" />
<circle cx="457.7" cy="323.4" r="0.8" fill="#000" stroke="#000" stroke-width="0.6"/>
<circle cx="457.7" cy="327" r="0.8" fill="#000" stroke="#000" stroke-width="0.6"/>
<circle cx="462.8" cy="321.8" r="0.8" fill="#000" stroke="#000" stroke-width="0.6"/>
<circle cx="463.3" cy="325.2" r="0.8" fill="#000" stroke="#000" stroke-width="0.6"/>
<circle cx="463.7" cy="328.8" r="0.8" fill="#000" stroke="#000" stroke-width="0.6"/>
<circle cx="468.2" cy="320.3" r="0.8" fill="#000" stroke="#000" stroke-width="0.6"/>
<circle cx="468.2" cy="323.8" r="0.8" fill="#000" stroke="#000" stroke-width="0.6"/>
<circle cx="467.7" cy="327.4" r="0.8" fill="#000" stroke="#000" stroke-width="0.6"/>
<circle cx="473.5" cy="317.6" r="0.8" fill="#000" stroke="#000" stroke-width="0.6"/>
<circle cx="473.5" cy="321.2" r="0.8" fill="#000" stroke="#000" stroke-width="0.6"/>
<circle cx="473.1" cy="324.7" r="0.8" fill="#000" stroke="#000" stroke-width="0.6"/>
<circle cx="478.4" cy="322" r="0.8" fill="#000" stroke="#000" stroke-width="0.6"/>
<circle cx="478" cy="325.6" r="0.8" fill="#000" stroke="#000" stroke-width="0.6"/>
<circle cx="481.1" cy="322.5" r="0.8" fill="#000" stroke="#000" stroke-width="0.6"/>
<circle cx="474.4" cy="327.4" r="0.8" fill="#000" stroke="#000" stroke-width="0.6"/>
<circle cx="469.1" cy="329.6" r="0.8" fill="#000" stroke="#000" stroke-width="0.6"/>
<circle cx="474.4" cy="337.5" r="0.8" fill="#000" stroke="#000" stroke-width="0.6"/>
<circle cx="479.3" cy="336.3" r="0.8" fill="#000" stroke="#000" stroke-width="0.6"/>
<circle cx="479.3" cy="339.9" r="0.8" fill="#000" stroke="#000" stroke-width="0.6"/>
<circle cx="484.5" cy="339" r="0.8" fill="#000" stroke="#000" stroke-width="0.6"/>
<circle cx="485.1" cy="342.2" r="0.8" fill="#000" stroke="#000" stroke-width="0.6"/>
<circle cx="490.5" cy="341" r="0.8" fill="#000" stroke="#000" stroke-width="0.6"/>
<circle cx="490.5" cy="344.5" r="0.8" fill="#000" stroke="#000" stroke-width="0.6"/>
<circle cx="495.9" cy="340.3" r="0.8" fill="#000" stroke="#000" stroke-width="0.6"/>
<circle cx="495.9" cy="343.8" r="0.8" fill="#000" stroke="#000" stroke-width="0.6"/>
<circle cx="496.3" cy="347" r="0.8" fill="#000" stroke="#000" stroke-width="0.6"/>
<circle cx="501.2" cy="339.5" r="0.8" fill="#000" stroke="#000" stroke-width="0.6"/>
<circle cx="500.8" cy="343.1" r="0.8" fill="#000" stroke="#000" stroke-width="0.6"/>
<circle cx="504.8" cy="341.9" r="0.8" fill="#000" stroke="#000" stroke-width="0.6"/>
<circle cx="503.9" cy="345.5" r="0.8" fill="#000" stroke="#000" stroke-width="0.6"/>
<circle cx="524.7" cy="346.7" r="0.8" fill="#000" stroke="#000" stroke-width="0.6"/>
<circle cx="524" cy="349.8" r="0.8" fill="#000" stroke="#000" stroke-width="0.6"/>
<circle cx="529.2" cy="345" r="0.8" fill="#000" stroke="#000" stroke-width="0.6"/>
<circle cx="529.2" cy="348.2" r="0.8" fill="#000" stroke="#000" stroke-width="0.6"/>
<circle cx="533.9" cy="343.4" r="0.8" fill="#000" stroke="#000" stroke-width="0.6"/>
<circle cx="533.9" cy="346.5" r="0.8" fill="#000" stroke="#000" stroke-width="0.6"/>
<circle cx="538.1" cy="342.2" r="0.8" fill="#000" stroke="#000" stroke-width="0.6"/>
<circle cx="538.3" cy="345.4" r="0.8" fill="#000" stroke="#000" stroke-width="0.6"/>
<circle cx="489.6" cy="321.3" r="0.7" fill="#000" stroke="#000" stroke-width="0.6"/>
<circle cx="496.3" cy="324.2" r="0.7" fill="#000" stroke="#000" stroke-width="0.6"/>
<circle cx="502.6" cy="327.1" r="0.7" fill="#000" stroke="#000" stroke-width="0.6"/>
<circle cx="508.4" cy="329.5" r="0.7" fill="#000" stroke="#000" stroke-width="0.6"/>
<circle cx="514.2" cy="332.2" r="0.7" fill="#000" stroke="#000" stroke-width="0.6"/>
<circle cx="520" cy="334.9" r="0.7" fill="#000" stroke="#000" stroke-width="0.6"/>
<circle cx="541.4" cy="352.2" r="0.6" fill="#000" stroke="#000" stroke-width="0.6"/>
<circle cx="545.5" cy="351" r="0.6" fill="#000" stroke="#000" stroke-width="0.6"/>
<path d="M410.8 327.4 L410.8 357.6 L495.6 391.2 L495.6 361.7" fill="none" stroke="#000" stroke-width="1.6" />
<path d="M410.8 327.4 L414.5 325.8 L500.8 359.6 L500.8 361.2 L495 363.5 L414.1 331Z" fill="#4a4a4a" stroke="#000" stroke-width="1"/>
<path d="M416.3 328.3 L415.7 331" fill="none" stroke="#bbb" stroke-width="0.6" />
<path d="M419.1 329.4 L418.4 332" fill="none" stroke="#bbb" stroke-width="0.6" />
<path d="M421.8 330.4 L421.1 333.1" fill="none" stroke="#bbb" stroke-width="0.6" />
<path d="M424.5 331.5 L423.8 334.1" fill="none" stroke="#bbb" stroke-width="0.6" />
<path d="M427.2 332.5 L426.6 335.2" fill="none" stroke="#bbb" stroke-width="0.6" />
<path d="M430 333.6 L429.3 336.3" fill="none" stroke="#bbb" stroke-width="0.6" />
<path d="M432.7 334.6 L432 337.3" fill="none" stroke="#bbb" stroke-width="0.6" />
<path d="M435.4 335.7 L434.7 338.4" fill="none" stroke="#bbb" stroke-width="0.6" />
<path d="M438.1 336.7 L437.5 339.4" fill="none" stroke="#bbb" stroke-width="0.6" />
<path d="M440.9 337.8 L440.2 340.5" fill="none" stroke="#bbb" stroke-width="0.6" />
<path d="M443.6 338.8 L442.9 341.5" fill="none" stroke="#bbb" stroke-width="0.6" />
<path d="M446.3 339.9 L445.6 342.6" fill="none" stroke="#bbb" stroke-width="0.6" />
<path d="M449 341 L448.4 343.6" fill="none" stroke="#bbb" stroke-width="0.6" />
<path d="M451.8 342 L451.1 344.7" fill="none" stroke="#bbb" stroke-width="0.6" />
<path d="M454.5 343.1 L453.8 345.7" fill="none" stroke="#bbb" stroke-width="0.6" />
<path d="M457.2 344.1 L456.6 346.8" fill="none" stroke="#bbb" stroke-width="0.6" />
<path d="M459.9 345.2 L459.3 347.9" fill="none" stroke="#bbb" stroke-width="0.6" />
<path d="M462.7 346.2 L462 348.9" fill="none" stroke="#bbb" stroke-width="0.6" />
<path d="M465.4 347.3 L464.7 350" fill="none" stroke="#bbb" stroke-width="0.6" />
<path d="M468.1 348.3 L467.5 351" fill="none" stroke="#bbb" stroke-width="0.6" />
<path d="M470.8 349.4 L470.2 352.1" fill="none" stroke="#bbb" stroke-width="0.6" />
<path d="M473.6 350.4 L472.9 353.1" fill="none" stroke="#bbb" stroke-width="0.6" />
<path d="M476.3 351.5 L475.6 354.2" fill="none" stroke="#bbb" stroke-width="0.6" />
<path d="M479 352.6 L478.4 355.2" fill="none" stroke="#bbb" stroke-width="0.6" />
<path d="M481.8 353.6 L481.1 356.3" fill="none" stroke="#bbb" stroke-width="0.6" />
<path d="M484.5 354.7 L483.8 357.3" fill="none" stroke="#bbb" stroke-width="0.6" />
<path d="M487.2 355.7 L486.5 358.4" fill="none" stroke="#bbb" stroke-width="0.6" />
<path d="M489.9 356.9 L489.3 359.5" fill="none" stroke="#bbb" stroke-width="0.6" />
<path d="M492.7 358 L492 360.7" fill="none" stroke="#bbb" stroke-width="0.6" />
<path d="M495.4 359.2 L494.7 361.9" fill="none" stroke="#bbb" stroke-width="0.6" />
<path d="M500.8 361 L500.8 390 L495.6 391.6" fill="none" stroke="#000" stroke-width="1.3" />
<path d="M494.1 363 L500.6 360.5 L500.6 388.7 L495.6 391 L494.1 389.8Z" fill="#8a8a8a" stroke="#000" stroke-width="0.9"/>
<path d="M497.2 361.7 L497.2 389.9" fill="none" stroke="#000" stroke-width="0.8" />
<path d="M499 361.4 L499 389.5" fill="none" stroke="#000" stroke-width="0.6" />
<path d="M414.1 331 L414.1 355.6 L493.2 386.6 L493.2 363.8" fill="none" stroke="#000" stroke-width="1.1" />
<path d="M417.5 334.1 L417.5 354.2" fill="none" stroke="#000" stroke-width="1" />
<path d="M420.8 334.1 L420.8 352.4 L417.5 354.2" fill="none" stroke="#000" stroke-width="1" />
<path d="M427.5 336.3 L427.5 356.9" fill="none" stroke="#000" stroke-width="1.1" />
<path d="M427.5 356.9 L493.4 384" fill="none" stroke="#000" stroke-width="0" />
<path d="M418.6 340.4 L419.9 340.8 L419.9 345.3 L418.6 344.8Z" fill="none" stroke="#000" stroke-width="0.8" />
<path d="M420.8 346.4 L424.4 347.7 L424.4 350.2" fill="none" stroke="#000" stroke-width="1" />
<path d="M437.6 341.3 L437.6 347.1 L465 358.2 L465 360.5 L472.2 360.5 L472.2 355.6" fill="none" stroke="#000" stroke-width="1.1" />
<path d="M440.9 343.5 L440.9 346.2 L467.7 356.9" fill="none" stroke="#000" stroke-width="1" />
<path d="M440.9 343.5 L443.1 344.4" fill="none" stroke="#000" stroke-width="1" />
<circle cx="434.2" cy="352.9" r="1.6" fill="none" stroke="#000" stroke-width="1"/>
<circle cx="434.2" cy="352.9" r="0.7" fill="#000" stroke="#000" stroke-width="0.6"/>
<ellipse cx="487.8" cy="364.5" rx="1.5" ry="1" fill="none" stroke="#000" stroke-width="1" transform="rotate(20 487.8 364.5)"/>
<ellipse cx="487.8" cy="377" rx="1.5" ry="1" fill="none" stroke="#000" stroke-width="1" transform="rotate(20 487.8 377)"/>
<path d="M486 367.6 L489.6 369.1 L489.6 374.4 L486 373Z" fill="none" stroke="#000" stroke-width="0.8" />
<path d="M487.2 368.5 L487.2 373.4" fill="none" stroke="#000" stroke-width="0.7" />
<path d="M488.5 369 L488.5 373.9" fill="none" stroke="#000" stroke-width="0.7" />
<path d="M502.1 362.4 L517.3 356.7 L517.3 358.9 L532.5 353.2 L532.5 355.4 L550.4 348.7 L550.4 346.7 L563.8 341.8 L563.8 344 L573.2 341.2" fill="none" stroke="#000" stroke-width="1" />
<path d="M519.1 359 L523.6 357.3 L523.6 355.5 L519.1 357.2Z" fill="none" stroke="#000" stroke-width="0.8" />
<path d="M541.4 352.2 L548.2 349.7 L548.2 351.1 L541.4 353.5Z" fill="none" stroke="#000" stroke-width="0.8" />
<path d="M503.9 366.9 L514.2 363.3 L514.2 376.7 L503.9 380.8Z" fill="none" stroke="#000" stroke-width="1.1" />
<path d="M505.7 367.9 L512.4 365.4 L512.4 368.5 L505.7 371" fill="none" stroke="#000" stroke-width="0.8" />
<circle cx="509.7" cy="375.2" r="1.8" fill="none" stroke="#000" stroke-width="1"/>
<path d="M514.2 368.6 L516 368 L516 377.6 L514.2 378.4" fill="none" stroke="#000" stroke-width="0.8" />
<path d="M525.8 365 L531.6 363 L531.6 368.8 L525.8 370.8Z" fill="none" stroke="#000" stroke-width="1.1" />
<path d="M527.6 365.5 L527.6 369.5" fill="none" stroke="#000" stroke-width="0.8" />
<path d="M529.8 364.7 L529.8 368.7" fill="none" stroke="#000" stroke-width="0.8" />
<circle cx="520.2" cy="367.9" r="0.6" fill="#000" stroke="#000" stroke-width="0.6"/>
<circle cx="520.9" cy="372.4" r="0.6" fill="#000" stroke="#000" stroke-width="0.6"/>
<circle cx="518.7" cy="373.7" r="0.6" fill="#000" stroke="#000" stroke-width="0.6"/>
<circle cx="523.6" cy="373.9" r="0.6" fill="#000" stroke="#000" stroke-width="0.6"/>
<circle cx="528" cy="373.1" r="0.6" fill="#000" stroke="#000" stroke-width="0.6"/>
<circle cx="535.9" cy="369.4" r="0.6" fill="#000" stroke="#000" stroke-width="0.6"/>
<circle cx="539.2" cy="367.7" r="0.6" fill="#000" stroke="#000" stroke-width="0.6"/>
<circle cx="542.8" cy="360.3" r="0.6" fill="#000" stroke="#000" stroke-width="0.6"/>
<circle cx="545" cy="367" r="0.6" fill="#000" stroke="#000" stroke-width="0.6"/>
<circle cx="554.9" cy="354.9" r="0.6" fill="#000" stroke="#000" stroke-width="0.6"/>
<circle cx="558.4" cy="356.4" r="0.6" fill="#000" stroke="#000" stroke-width="0.6"/>
<circle cx="561.6" cy="352.9" r="0.6" fill="#000" stroke="#000" stroke-width="0.6"/>
<circle cx="564.7" cy="348.1" r="0.6" fill="#000" stroke="#000" stroke-width="0.6"/>
<circle cx="568.3" cy="347.3" r="0.6" fill="#000" stroke="#000" stroke-width="0.6"/>
<circle cx="569.4" cy="350.5" r="0.6" fill="#000" stroke="#000" stroke-width="0.6"/>
<ellipse cx="534.3" cy="373.4" rx="1.6" ry="1" fill="none" stroke="#000" stroke-width="0.8" transform="rotate(-25 534.3 373.4)"/>
<ellipse cx="548.2" cy="369.8" rx="1.6" ry="0.9" fill="none" stroke="#000" stroke-width="0.8" transform="rotate(-25 548.2 369.8)"/>
<path d="M550.4 362.8 L553.5 361.8" fill="none" stroke="#000" stroke-width="1.1" />
<path d="M556.6 360.8 L559.8 359.8" fill="none" stroke="#000" stroke-width="1.1" />
<path d="M562.9 358.3 L566 357.3" fill="none" stroke="#000" stroke-width="1.1" />
<path d="M550.4 365.9 L553.5 364.9" fill="none" stroke="#000" stroke-width="1.1" />
<path d="M556.6 363.4 L559.8 362.4" fill="none" stroke="#000" stroke-width="1.1" />
<path d="M562.9 361 L566 360" fill="none" stroke="#000" stroke-width="1.1" />
<path d="M567.1 354.9 L570.3 353.9" fill="none" stroke="#000" stroke-width="1.1" />
<path d="M567.1 357.6 L570.3 356.6" fill="none" stroke="#000" stroke-width="1.1" />
<path d="M571.6 343.9 L571.6 351.7 L573.8 351.1" fill="none" stroke="#000" stroke-width="0.8" />
<path d="M531 111 L534.8 108.8 L613.2 139.2 L614.8 142.6 L614.2 148.6 L616.6 149.6 L616.6 163 L613.4 165 L610 169.6 L608.4 168.6" fill="none" stroke="#000" stroke-width="1.2" />
<path d="M612.4 141.4 L613.2 139" fill="none" stroke="#000" stroke-width="1" />
<path d="M613.4 165 L613.8 153" fill="none" stroke="#000" stroke-width="0" />
<path d="M529.6 114 L531 111 L533.6 110.2 L610 139.4 L612.4 141.4 L612.6 144.2 L608.4 168.6 L606 170.2 L529 137.4 L528 135Z" fill="#fff" stroke="#000" stroke-width="1.6" />
<path d="M531.6 115 L533.2 113 L609.2 142.2 L610.4 144.2 L606.8 166.2 L605.2 167.4 L530.8 135.8 L530 134.2Z" fill="none" stroke="#000" stroke-width="1" />
<path d="M532.6 119.4 L537.6 121.2 L537.6 125.4 L532.6 123.6Z" fill="none" stroke="#000" stroke-width="1.1" />
<circle cx="535.2" cy="132.2" r="3.4" fill="none" stroke="#000" stroke-width="1.3"/>
<circle cx="535.2" cy="132.2" r="2.1" fill="none" stroke="#000" stroke-width="0.7"/>
<path d="M533.2 130.2 L537.2 134.2" fill="none" stroke="#000" stroke-width="1" />
<path d="M533.2 134.2 L537.2 130.2" fill="none" stroke="#000" stroke-width="1" />
<path d="M541 121 L549 124 L549 129 L541 126Z" fill="none" stroke="#000" stroke-width="1.2" />
<path d="M542.4 123 L547.8 125 L547.8 127.4 L542.4 125.4Z" fill="#555" stroke="#000" stroke-width="1" />
<circle cx="543.6" cy="131.4" r="1.2" fill="none" stroke="#000" stroke-width="0.8"/>
<circle cx="543.6" cy="135" r="1.2" fill="none" stroke="#000" stroke-width="0.8"/>
<path d="M540.4 120.6 L540.4 138" fill="none" stroke="#000" stroke-width="1" />
<path d="M550 123 L578 133.6 L578 140.2 L550 129.6Z" fill="none" stroke="#000" stroke-width="1.3" />
<path d="M543.6 137.4 L584.4 153.4 L584.4 144.6" fill="none" stroke="#000" stroke-width="1.1" />
<path d="M550 129.6 L550 133" fill="none" stroke="#000" stroke-width="0" />
<path d="M578.4 135 L586 137.9 L586 142.7 L578.4 139.8Z" fill="none" stroke="#000" stroke-width="1.1" />
<path d="M588 139 L595.6 141.9 L595.6 146.7 L588 143.8Z" fill="none" stroke="#000" stroke-width="1.1" />
<path d="M597.6 143 L605.6 146 L605.6 151.2 L597.6 148.2Z" fill="none" stroke="#000" stroke-width="1.1" />
<path d="M599 145 L604.4 147.4 L604.4 149.4 L599 147Z" fill="#444" stroke="#000" stroke-width="0.8" />
<path d="M588 146.2 L595.2 148.9 L595.2 153.3 L588 150.6Z" fill="none" stroke="#000" stroke-width="1.1" />
<path d="M597.6 150.2 L605.6 153.2 L605.6 157.6 L597.6 154.6Z" fill="none" stroke="#000" stroke-width="1.1" />
<path d="M588.8 153 L595.2 155.4 L595.2 159 L588.8 156.6Z" fill="none" stroke="#000" stroke-width="1.1" />
<path d="M597.6 157.4 L605.6 160.4 L605.6 165.6 L597.6 162.6Z" fill="none" stroke="#000" stroke-width="1.1" />
<path d="M587.2 137.8 L587.2 155" fill="none" stroke="#000" stroke-width="1" />
<path d="M596.6 142.2 L596.6 162" fill="none" stroke="#000" stroke-width="1" />
<path d="M544 141.4 L558.4 147 L557.2 152.2 L545.6 146.6 L544 144.2Z" fill="none" stroke="#000" stroke-width="1.1" />
<path d="M561.2 148.2 L574.4 153.3 L573.2 158.5 L562.8 153.4 L561.2 151Z" fill="none" stroke="#000" stroke-width="1.1" />
<path d="M577.2 154.6 L589.2 159.3 L588 164.5 L578.8 159.8 L577.2 157.4Z" fill="none" stroke="#000" stroke-width="1.1" />
<path d="M351.8 353.2 L355.6 351 L434 381.4 L435.6 384.8 L435 390.8 L437.4 391.8 L437.4 405.2 L434.2 407.2 L430.8 411.8 L429.2 410.8" fill="none" stroke="#000" stroke-width="1.2" />
<path d="M433.2 383.6 L434 381.2" fill="none" stroke="#000" stroke-width="1" />
<path d="M434.2 407.2 L434.6 395.2" fill="none" stroke="#000" stroke-width="0" />
<path d="M350.4 356.2 L351.8 353.2 L354.4 352.4 L430.8 381.6 L433.2 383.6 L433.4 386.4 L429.2 410.8 L426.8 412.4 L349.8 379.6 L348.8 377.2Z" fill="#fff" stroke="#000" stroke-width="1.6" />
<path d="M352.4 357.2 L354 355.2 L430 384.4 L431.2 386.4 L427.6 408.4 L426 409.6 L351.6 378 L350.8 376.4Z" fill="none" stroke="#000" stroke-width="1" />
<path d="M353.6 362.8 L358.4 364.6 L358.4 368.8 L353.6 367Z" fill="none" stroke="#000" stroke-width="1.2" />
<path d="M353.6 370 L358.4 371.8 L358.4 376 L353.6 374.2Z" fill="none" stroke="#000" stroke-width="1.2" />
<path d="M360.8 362 L367.6 364.6 L367.6 370.4 L360.8 367.8Z" fill="none" stroke="#000" stroke-width="1.3" />
<path d="M362 363.8 L366.4 365.6 L366.4 368.8 L362 367Z" fill="#999" stroke="#000" stroke-width="1" />
<path d="M360 361.2 L360 379.6" fill="none" stroke="#000" stroke-width="1" />
<path d="M372 367.2 L376.8 368.8 L373.2 371.6" fill="none" stroke="#000" stroke-width="1" />
<path d="M390.8 379.6 L395.8 376.4 L398 377.2" fill="none" stroke="#000" stroke-width="1" />
<path d="M370.8 365.2 L398.8 375.8 L398.8 382.4 L370.8 371.8Z" fill="none" stroke="#000" stroke-width="1.3" />
<path d="M364.4 379.6 L405.2 395.6 L405.2 386.8" fill="none" stroke="#000" stroke-width="1.1" />
<path d="M370.8 371.8 L370.8 375.2" fill="none" stroke="#000" stroke-width="0" />
<path d="M399.2 377.2 L406.8 380.1 L406.8 384.9 L399.2 382Z" fill="none" stroke="#000" stroke-width="1.1" />
<path d="M408.8 381.2 L416.4 384.1 L416.4 388.9 L408.8 386Z" fill="none" stroke="#000" stroke-width="1.1" />
<path d="M418.4 385.2 L426.4 388.2 L426.4 393.4 L418.4 390.4Z" fill="none" stroke="#000" stroke-width="1.1" />
<path d="M419.8 387.2 L425.2 389.6 L425.2 391.6 L419.8 389.2Z" fill="#444" stroke="#000" stroke-width="0.8" />
<path d="M408.8 388.4 L416 391.1 L416 395.5 L408.8 392.8Z" fill="none" stroke="#000" stroke-width="1.1" />
<path d="M418.4 392.4 L426.4 395.4 L426.4 399.8 L418.4 396.8Z" fill="none" stroke="#000" stroke-width="1.1" />
<path d="M409.6 395.2 L416 397.6 L416 401.2 L409.6 398.8Z" fill="none" stroke="#000" stroke-width="1.1" />
<path d="M418.4 399.6 L426.4 402.6 L426.4 407.8 L418.4 404.8Z" fill="none" stroke="#000" stroke-width="1.1" />
<path d="M408 380 L408 397.2" fill="none" stroke="#000" stroke-width="1" />
<path d="M417.4 384.4 L417.4 404.2" fill="none" stroke="#000" stroke-width="1" />
<path d="M364.8 383.6 L379.2 389.2 L378 394.4 L366.4 388.8 L364.8 386.4Z" fill="none" stroke="#000" stroke-width="1.1" />
<path d="M382 390.4 L395.2 395.5 L394 400.7 L383.6 395.6 L382 393.2Z" fill="none" stroke="#000" stroke-width="1.1" />
<path d="M398 396.8 L410 401.5 L408.8 406.7 L399.6 402 L398 399.6Z" fill="none" stroke="#000" stroke-width="1.1" />
<path d="M519.8 217.4 Q521.6 209.8 528.3 211.1 L605.2 242.4 Q612.8 245.6 611.5 252.3 L607 274.6 Q605.2 280.9 598.5 278.7 L521.1 244.7 Q514.8 241.5 515.7 235.7 Z" fill="none" stroke="#000" stroke-width="1.4" />
<path d="M523.3 211.6 Q531.8 204.8 540.8 206.2 L618.6 236.6 Q626.3 239.3 627.6 246.9" fill="none" stroke="#000" stroke-width="1.3" />
<path d="M533.6 208.9 L610.1 239.7" fill="none" stroke="#000" stroke-width="1" />
<path d="M535.4 211.1 L608.4 240.6 L610.1 239.7" fill="none" stroke="#000" stroke-width="0.8" />
<path d="M627.6 246.9 L628.5 255.4 Q628.5 268.8 624.5 271.5 L616.9 275.5 Q612.8 276.9 609.7 273.7" fill="none" stroke="#000" stroke-width="1.3" />
<path d="M610.1 245.6 L616.9 241.5 L625.8 240.6" fill="none" stroke="#000" stroke-width="1" />
<path d="M616.9 241.5 L617.8 253.6 L611.5 271.1" fill="none" stroke="#000" stroke-width="1.1" />
<path d="M617.8 253.6 L617.3 274.6" fill="none" stroke="#000" stroke-width="1" />
<path d="M548.8 237.1 L575.7 247.8 L574.4 253.6 L547.5 242.9Z" fill="none" stroke="#000" stroke-width="1.1" />
<text x="0" y="0" font-size="5.0" font-weight="bold" font-family="Liberation Sans, sans-serif" transform="translate(549.5 242.2) rotate(21.8)" textLength="21.5" lengthAdjust="spacingAndGlyphs">HONDA</text>
<path d="M627.5 327.3 L648.1 316 L694.7 339.4 L677.8 349 Z" fill="none" stroke="#000" stroke-width="0.9" />
<path d="M627.5 327.3 Q619.9 332.9 617.9 342.8" fill="none" stroke="#000" stroke-width="0.9" />
<path d="M617.9 342.8 L673.6 369.6 L684 372.7 L688 369.6" fill="none" stroke="#000" stroke-width="0.9" />
<path d="M627.5 327.3 L626.4 340.5" fill="none" stroke="#000" stroke-width="0.9" />
<path d="M677.8 349 Q674.4 356.9 673.6 369.6 L673.6 369.6" fill="none" stroke="#000" stroke-width="0.9" />
<path d="M677.8 349 Q685.7 358.3 688 369.6" fill="none" stroke="#000" stroke-width="0.9" />
<path d="M680.6 350.7 L676.7 368.2" fill="none" stroke="#000" stroke-width="0.9" />
<path d="M634.9 337.1 L663.1 349 L663.1 359.7 L634.9 347.9 Z" fill="none" stroke="#000" stroke-width="0.9" />
<path d="M636.8 339.7 L661.4 350.1 L661.4 357.5 L636.8 346.8 Z" fill="none" stroke="#000" stroke-width="0.9" />
<path d="M617.9 342.8 Q617.9 352.7 623.6 357.5 L667.9 382.3 Q673.6 385.7 681.2 387.1 L681.2 387.1" fill="none" stroke="#000" stroke-width="0.9" />
<path d="M673.6 377.3 L680.6 379 L701 377.3" fill="none" stroke="#000" stroke-width="0.9" />
<path d="M619 349 L672.7 373.9 L703.2 372.5" fill="none" stroke="#000" stroke-width="0.9" />
<path d="M648.1 316 L683.4 295.3 L727.2 313.1 L694.7 339.4" fill="none" stroke="#000" stroke-width="0.9" />
<path d="M683.4 295.3 Q703.2 285.7 721.6 283.2 Q730.1 282.3 735.7 285.7" fill="none" stroke="#000" stroke-width="0.9" />
<path d="M703.2 300.4 L730.1 289.7" fill="none" stroke="#000" stroke-width="0.9" />
<path d="M727.2 313.1 Q734.3 308.3 742.8 305.5" fill="none" stroke="#000" stroke-width="0.9" />
<path d="M694.7 339.4 Q717.3 332.9 739.9 320.2" fill="none" stroke="#000" stroke-width="0.9" />
<path d="M721.6 332.9 Q725.8 321.6 739.9 311.2 L739.9 311.2" fill="none" stroke="#000" stroke-width="0.9" />
<path d="M721.6 332.9 L724.4 340.5" fill="none" stroke="#000" stroke-width="0.9" />
<path d="M724.4 340.5 L739.9 341.4" fill="none" stroke="#000" stroke-width="0.9" />
<path d="M705.7 372.2 Q708.9 361.2 719.5 356.9 Q729.4 355.6 731.1 366.1 Q731.3 371.7 728.2 376.4" fill="none" stroke="#000" stroke-width="0.9" />
<path d="M688 369.6 L705.5 372.2" fill="none" stroke="#000" stroke-width="0.9" />
<ellipse cx="715.4" cy="377" rx="10.6" ry="17.6" fill="none" stroke="#000" stroke-width="0.9" transform="rotate(14 715.4 377)"/>
<path d="M703.3 377 L701.2 380.8 L695.8 386 L681 387.2" fill="none" stroke="#000" stroke-width="0.9" />
<path d="M728.6 284.1 L735.4 289.2" fill="none" stroke="#000" stroke-width="0.9" />
<path d="M710 298.2 L725.8 286.9" fill="none" stroke="#000" stroke-width="0.9" />
<path d="M735.4 289.2 L749.5 290.3 L766.5 289.2" fill="none" stroke="#000" stroke-width="0.9" />
<path d="M766.5 289.2 Q794.7 294 811.7 301.6 Q828.6 309.5 835.4 319.4 Q836.6 323.7 836 326.5" fill="none" stroke="#000" stroke-width="0.9" />
<path d="M736.8 293.7 L759.4 301.6 L756.6 305.9 L733.2 298.2 Z" fill="none" stroke="#000" stroke-width="0.9" />
<path d="M735.4 289.2 L733.2 298.2" fill="none" stroke="#000" stroke-width="0.9" />
<path d="M749.5 290.3 L792.5 312.4" fill="none" stroke="#000" stroke-width="0.9" />
<path d="M756.6 305.9 L794.7 314.1 L797.6 315.2" fill="none" stroke="#000" stroke-width="0.9" />
<path d="M794.7 314.1 L791.4 321.4 L798.1 329.9 L802.1 327.6 Z" fill="none" stroke="#000" stroke-width="0.9" />
<path d="M792.5 312.4 L797.6 315.2" fill="none" stroke="#000" stroke-width="0.9" />
<path d="M760.3 312.4 L765.4 310.1 L775.5 314.1 L770.5 316.9 Z" fill="none" stroke="#000" stroke-width="0.9" />
<path d="M760.3 312.4 L760.3 316.3 L769.9 320.8 L770.5 316.9" fill="none" stroke="#000" stroke-width="0.9" />
<path d="M769.9 320.8 L775.5 318 L775.5 314.1" fill="none" stroke="#000" stroke-width="0.9" />
<path d="M761.4 314.6 L769.3 318.6" fill="none" stroke="#000" stroke-width="0.9" />
<path d="M719.9 336.4 Q725.5 319.4 741.1 310.1 Q749.5 306.2 757.5 305.6" fill="none" stroke="#000" stroke-width="0.9" />
<path d="M719.9 336.4 Q741.1 336.4 766.5 326.5 Q780.6 320.8 790.2 316.9" fill="none" stroke="#000" stroke-width="0.9" />
<path d="M710 330.7 Q714.2 320.8 726.9 309.5" fill="none" stroke="#000" stroke-width="0.9" />
<path d="M738.2 315.2 Q746.2 332.1 742.5 366 L742.5 366" fill="none" stroke="#000" stroke-width="0.9" />
<path d="M743.9 316.6 Q749.5 330.7 746.2 340.6" fill="none" stroke="#000" stroke-width="0.9" />
<path d="M742.5 366 L801 340.6" fill="none" stroke="#000" stroke-width="0.9" />
<path d="M801 340.6 Q804.9 329.3 799.8 328.8" fill="none" stroke="#000" stroke-width="0.9" />
<path d="M749.5 336.4 L760.8 332.7" fill="none" stroke="#000" stroke-width="0.9" />
<path d="M746.7 329.3 L777.8 321.4" fill="none" stroke="#000" stroke-width="0.9" />
<path d="M730.3 376.8 L743.3 368.3 L803.8 342.3" fill="none" stroke="#000" stroke-width="0.9" />
<path d="M803.8 342.3 Q807.5 322.3 821.6 315.2 Q834.3 314.6 836 326.5" fill="none" stroke="#000" stroke-width="0.9" />
<ellipse cx="819.6" cy="331" rx="9.5" ry="14.5" fill="none" stroke="#000" stroke-width="0.9" transform="rotate(12 819.6 331)"/>
<path d="M823 318 Q834.3 322.3 828.1 343.4" fill="none" stroke="#000" stroke-width="0.9" />
<path d="M800 13 L817.6 8.7 L817 5.9 L828.2 12.4 L822.2 21.7 L821.2 18.9 L802.6 24.1Z" fill="#000" stroke="#000" stroke-width="0.6" />
<text x="0" y="0" font-size="13.4" font-weight="bold" font-family="Liberation Sans, sans-serif" stroke="#000" stroke-width="0.9" transform="translate(777.3 29.6) rotate(-15)" textLength="23.6" lengthAdjust="spacingAndGlyphs">FR.</text>
<path d="M573.7 321.5 L583.9 317.7 L585.2 320.3 L575.4 324.5Z" fill="none" stroke="#000" stroke-width="1.1" />
<path d="M575.4 320.9 L576.7 323.9" fill="none" stroke="#000" stroke-width="0.7" />
<path d="M577 320.3 L578.3 323.2" fill="none" stroke="#000" stroke-width="0.7" />
<path d="M578.6 319.7 L579.9 322.5" fill="none" stroke="#000" stroke-width="0.7" />
<path d="M580.2 319 L581.5 321.9" fill="none" stroke="#000" stroke-width="0.7" />
<path d="M581.8 318.4 L583.1 321.2" fill="none" stroke="#000" stroke-width="0.7" />
<path d="M583.4 317.8 L584.6 320.6" fill="none" stroke="#000" stroke-width="0.7" />
<ellipse cx="571.2" cy="324.1" rx="2" ry="4.2" fill="none" stroke="#000" stroke-width="1.2" transform="rotate(-20 571.2 324.1)"/>
<ellipse cx="572.9" cy="323.4" rx="2" ry="3.6" fill="none" stroke="#000" stroke-width="1.1" transform="rotate(-20 572.9 323.4)"/>
<path d="M564.8 324.9 L569.5 322.8 L570.8 327 L566.5 329.2Z" fill="#fff" stroke="#000" stroke-width="1.2" />
<ellipse cx="565.3" cy="327" rx="1.3" ry="2.4" fill="none" stroke="#000" stroke-width="1.1" transform="rotate(-20 565.3 327)"/>
<path d="M597 309.2 L606.8 306.3 Q614 307.1 613.6 311.8 L611.9 315 Q607.6 319.4 600.8 323.2" fill="none" stroke="#000" stroke-width="1.2" />
<path d="M606.4 306.7 Q609.3 311.8 606.8 319" fill="none" stroke="#000" stroke-width="1" />
<path d="M608.1 307.1 L609.7 316.4" fill="none" stroke="#000" stroke-width="0.7" />
<path d="M609.7 307.3 L611 315.2" fill="none" stroke="#000" stroke-width="0.7" />
<path d="M611.4 307.5 L612.3 313.9" fill="none" stroke="#000" stroke-width="0.7" />
<ellipse cx="596.4" cy="316.4" rx="5.4" ry="7.4" fill="none" stroke="#000" stroke-width="1.4" transform="rotate(-18 596.4 316.4)"/>
<ellipse cx="595.8" cy="316.7" rx="3.4" ry="5" fill="none" stroke="#000" stroke-width="1.1" transform="rotate(-18 595.8 316.7)"/>
<ellipse cx="595.6" cy="316.9" rx="1.6" ry="2.6" fill="#777" stroke="#000" stroke-width="0.8" transform="rotate(-18 595.6 316.9)"/>
<path d="M752.2 70.5 L762.4 66.7 L763.7 69.3 L753.9 73.5Z" fill="none" stroke="#000" stroke-width="1.1" />
<path d="M753.9 69.9 L755.2 72.9" fill="none" stroke="#000" stroke-width="0.7" />
<path d="M755.5 69.3 L756.8 72.2" fill="none" stroke="#000" stroke-width="0.7" />
<path d="M757.1 68.7 L758.4 71.5" fill="none" stroke="#000" stroke-width="0.7" />
<path d="M758.7 68 L760 70.9" fill="none" stroke="#000" stroke-width="0.7" />
<path d="M760.3 67.4 L761.6 70.2" fill="none" stroke="#000" stroke-width="0.7" />
<path d="M761.9 66.8 L763.1 69.6" fill="none" stroke="#000" stroke-width="0.7" />
<ellipse cx="749.7" cy="73.1" rx="2" ry="4.2" fill="none" stroke="#000" stroke-width="1.2" transform="rotate(-20 749.7 73.1)"/>
<ellipse cx="751.4" cy="72.4" rx="2" ry="3.6" fill="none" stroke="#000" stroke-width="1.1" transform="rotate(-20 751.4 72.4)"/>
<path d="M743.3 73.9 L748 71.8 L749.3 76 L745 78.2Z" fill="#fff" stroke="#000" stroke-width="1.2" />
<ellipse cx="743.8" cy="76" rx="1.3" ry="2.4" fill="none" stroke="#000" stroke-width="1.1" transform="rotate(-20 743.8 76)"/>
<path d="M775.8 60 L785.6 57.1 Q792.8 57.9 792.4 62.6 L790.7 65.8 Q786.4 70.2 779.6 74" fill="none" stroke="#000" stroke-width="1.2" />
<path d="M785.2 57.5 Q788.1 62.6 785.6 69.8" fill="none" stroke="#000" stroke-width="1" />
<path d="M786.9 57.9 L788.5 67.2" fill="none" stroke="#000" stroke-width="0.7" />
<path d="M788.5 58.1 L789.8 66" fill="none" stroke="#000" stroke-width="0.7" />
<path d="M790.2 58.3 L791.1 64.7" fill="none" stroke="#000" stroke-width="0.7" />
<ellipse cx="775.2" cy="67.2" rx="5.4" ry="7.4" fill="none" stroke="#000" stroke-width="1.4" transform="rotate(-18 775.2 67.2)"/>
<ellipse cx="774.6" cy="67.5" rx="3.4" ry="5" fill="none" stroke="#000" stroke-width="1.1" transform="rotate(-18 774.6 67.5)"/>
<ellipse cx="774.4" cy="67.7" rx="1.6" ry="2.6" fill="#777" stroke="#000" stroke-width="0.8" transform="rotate(-18 774.4 67.7)"/>
<path d="M509.1 134.9 Q514.4 132.3 517.9 136.2 Q519.9 140.3 517.4 143.8 Q515.6 145.7 512.6 145.2" fill="none" stroke="#000" stroke-width="1.3" />
<ellipse cx="510.9" cy="139.7" rx="3.9" ry="5" fill="#fff" stroke="#000" stroke-width="1.6" transform="rotate(-12 510.9 139.7)"/>
<path d="M513.8 134.6 L515.5 134.9" fill="none" stroke="#000" stroke-width="0.8" />
<path d="M514.4 135.7 L515.9 136.1" fill="none" stroke="#000" stroke-width="0.8" />
<path d="M515 136.8 L516.4 137.2" fill="none" stroke="#000" stroke-width="0.8" />
<path d="M515.6 137.8 L516.9 138.4" fill="none" stroke="#000" stroke-width="0.8" />
<path d="M516.2 138.9 L517.4 139.6" fill="none" stroke="#000" stroke-width="0.8" />
<path d="M516.8 139.9 L517.8 140.8" fill="none" stroke="#000" stroke-width="0.8" />
<path d="M215.9 278.9 L220.6 277.1 L226.3 279.9 L226.3 284.1 L234.3 289.8 L234.3 296.8 L230 295.9 L229.6 291.6 L221.1 292.6 L215.9 290.7Z" fill="none" stroke="#000" stroke-width="1.2" />
<path d="M220.6 277.1 L221.1 292.6" fill="none" stroke="#000" stroke-width="1" />
<path d="M226.3 284.1 L226.3 289.8 L229.6 291.6" fill="none" stroke="#000" stroke-width="1" />
<circle cx="219.7" cy="285" r="1.3" fill="none" stroke="#000" stroke-width="1"/>
<circle cx="218.8" cy="293" r="1.6" fill="none" stroke="#000" stroke-width="1.1"/>
<path d="M223.5 280.3 L223.5 289.8" fill="none" stroke="#000" stroke-width="0.7" />
<path d="M187.7 283.6 L187.7 291.2 L191 291.2 L191 283.6" fill="none" stroke="#000" stroke-width="1.1" />
<ellipse cx="189.4" cy="283.4" rx="1.7" ry="0.9" fill="none" stroke="#000" stroke-width="1" transform="rotate(0 189.4 283.4)"/>
<path d="M187.7 285 L191 284.3" fill="none" stroke="#000" stroke-width="0.7" />
<path d="M187.7 286.5 L191 285.8" fill="none" stroke="#000" stroke-width="0.7" />
<path d="M187.7 287.9 L191 287.2" fill="none" stroke="#000" stroke-width="0.7" />
<path d="M187.7 289.3 L191 288.6" fill="none" stroke="#000" stroke-width="0.7" />
<path d="M187.7 290.7 L191 290" fill="none" stroke="#000" stroke-width="0.7" />
<ellipse cx="189.1" cy="293" rx="6.3" ry="2.4" fill="#fff" stroke="#000" stroke-width="1.3" transform="rotate(0 189.1 293)"/>
<path d="M184.7 294.7 L185.4 298.2 L189.6 299.9 L193.6 297.7 L194.1 294.5" fill="none" stroke="#000" stroke-width="1.3" />
<path d="M188.2 295.9 L189.6 299.9" fill="none" stroke="#000" stroke-width="0.8" />
<path d="M184.7 294.7 Q189.1 297.3 194.1 294.5" fill="none" stroke="#000" stroke-width="1" />
<path d="M217.7 377.5 L217.7 384 L220.6 384 L220.6 377.5" fill="none" stroke="#000" stroke-width="1.1" />
<ellipse cx="219.1" cy="377.2" rx="1.2" ry="0.6" fill="none" stroke="#000" stroke-width="1" transform="rotate(0 219.1 377.2)"/>
<path d="M217.7 378.7 L220.6 378.1" fill="none" stroke="#000" stroke-width="0.7" />
<path d="M217.7 379.9 L220.6 379.3" fill="none" stroke="#000" stroke-width="0.7" />
<path d="M217.7 381.1 L220.6 380.5" fill="none" stroke="#000" stroke-width="0.7" />
<path d="M217.7 382.3 L220.6 381.7" fill="none" stroke="#000" stroke-width="0.7" />
<path d="M217.7 383.6 L220.6 382.9" fill="none" stroke="#000" stroke-width="0.7" />
<ellipse cx="218.9" cy="385.6" rx="4.5" ry="1.7" fill="#fff" stroke="#000" stroke-width="1.3" transform="rotate(0 218.9 385.6)"/>
<path d="M215.1 387 L215.7 390.1 L219.3 391.5 L222.8 389.7 L223.2 386.8" fill="none" stroke="#000" stroke-width="1.3" />
<path d="M218.1 388 L219.3 391.5" fill="none" stroke="#000" stroke-width="0.8" />
<path d="M215.1 387 Q218.9 389.2 223.2 386.8" fill="none" stroke="#000" stroke-width="1" />
<ellipse cx="249.4" cy="352.6" rx="2.1" ry="2.6" fill="none" stroke="#000" stroke-width="1.2" transform="rotate(20 249.4 352.6)"/>
<path d="M247.2 350.4 L239.8 353.8" fill="none" stroke="#000" stroke-width="1.1" />
<path d="M247.7 354.3 L241 356.6" fill="none" stroke="#000" stroke-width="1.1" />
<path d="M239.8 353.8 L237.6 356 L241 356.6" fill="none" stroke="#000" stroke-width="1" />
<path d="M246 350.9 L246.6 354.6" fill="none" stroke="#000" stroke-width="0.7" />
<path d="M244.4 351.7 L244.9 355.2" fill="none" stroke="#000" stroke-width="0.7" />
<path d="M242.7 352.5 L243.2 355.7" fill="none" stroke="#000" stroke-width="0.7" />
<path d="M241 353.3 L241.5 356.3" fill="none" stroke="#000" stroke-width="0.7" />
<ellipse cx="185.6" cy="401.2" rx="2.6" ry="3.2" fill="none" stroke="#000" stroke-width="1.2" transform="rotate(-20 185.6 401.2)"/>
<path d="M183.3 399.5 L174.3 396.1" fill="none" stroke="#000" stroke-width="1.1" />
<path d="M182.8 402.3 L174.3 397.8" fill="none" stroke="#000" stroke-width="1.1" />
<path d="M174.3 396.1 L172.6 396.4 L174.3 397.8" fill="none" stroke="#000" stroke-width="1" />
<path d="M181.6 398.7 L181.1 401.5" fill="none" stroke="#000" stroke-width="0.7" />
<path d="M179.7 397.9 L179.1 400.5" fill="none" stroke="#000" stroke-width="0.7" />
<path d="M177.7 397.2 L177.1 399.6" fill="none" stroke="#000" stroke-width="0.7" />
<path d="M175.7 396.5 L175.1 398.6" fill="none" stroke="#000" stroke-width="0.7" />
<path d="M163.8 315 L170 309.7 L199.1 310.9 L207.9 312.3 L228.2 312.7 L230.8 315.9 L232.6 337.9 L229.1 340.9 L227 366.7 L220.3 367.9 L214.6 362.6 L212.8 352 L180.6 340.9 L175.3 345.5 L164.2 341.4Z" fill="none" stroke="#000" stroke-width="1.4" />
<path d="M174.8 320.8 L178.8 316.2 L219.6 327.5 L220.6 332.8 L216 348.7 L176.9 334.6Z" fill="none" stroke="#000" stroke-width="1.3" />
<path d="M177.2 321.9 L180 318.7 L217.4 328.9 L218.1 332.8 L214.6 345.9 L179 333.2Z" fill="none" stroke="#000" stroke-width="1" />
<path d="M181.5 321.5 L215 330.7 L217.8 332.8 L214.3 343.4 L181.5 332.5Z" fill="none" stroke="#000" stroke-width="1.2" />
<path d="M181.5 321.5 L185 319.8 L215.8 328.2" fill="none" stroke="#000" stroke-width="0.8" />
<path d="M215 330.7 L215.8 328.2" fill="none" stroke="#000" stroke-width="0.8" />
<path d="M199.1 310.9 L203 315.5 L218.5 319.8 L228.2 312.7" fill="none" stroke="#000" stroke-width="1.1" />
<path d="M203 312 L207.9 316.9" fill="none" stroke="#000" stroke-width="1.2" />
<path d="M207.2 312.3 L211.8 317.6" fill="none" stroke="#000" stroke-width="1" />
<path d="M218.5 319.8 L219.6 327.5" fill="none" stroke="#000" stroke-width="1" />
<path d="M219.6 322.9 L231.2 319.8" fill="none" stroke="#000" stroke-width="1.1" />
<path d="M220.3 314.1 L225.2 314.8 L224.5 316.9 L219.6 316.2Z" fill="none" stroke="#000" stroke-width="1" />
<path d="M220.6 320.8 L227.7 318.3" fill="none" stroke="#000" stroke-width="1.2" />
<path d="M229.1 340.9 L229.8 320.8" fill="none" stroke="#000" stroke-width="1" />
<path d="M225.2 341.6 L224.1 365.6" fill="none" stroke="#000" stroke-width="1" />
<circle cx="168.4" cy="337.9" r="1.7" fill="none" stroke="#000" stroke-width="1.1"/>
<circle cx="168.4" cy="337.9" r="0.7" fill="none" stroke="#000" stroke-width="0.6"/>
<circle cx="221.7" cy="360.3" r="1.4" fill="none" stroke="#000" stroke-width="1.1"/>
<path d="M95.8 351.9 L110.6 347.2 L173.9 373.1 L174.7 388.9 L144 402.3" fill="none" stroke="#000" stroke-width="1.3" />
<path d="M151.8 384.2 L173.9 375.5" fill="none" stroke="#000" stroke-width="1" />
<path d="M123.5 350.8 L125.4 348.6 L130.9 349.6 L131.9 352.3" fill="none" stroke="#000" stroke-width="1.1" />
<path d="M173.9 374 L179.4 372 L181.4 373.6 L181 377.1 L175.4 378.9" fill="none" stroke="#000" stroke-width="1.2" />
<path d="M80.3 353.5 L94.4 347.4 L96.1 348.4 L95.8 352.8 L83.8 358.3" fill="none" stroke="#000" stroke-width="1.2" />
<path d="M69 354.6 L70.4 352.6 L77 353 L79 356.4 L75.4 358.2Z" fill="#bbb" stroke="#000" stroke-width="1.1" />
<path d="M81.7 358.3 L124.2 375.7" fill="none" stroke="#000" stroke-width="2.8" />
<path d="M81.7 358.3 L124.2 375.7" fill="none" stroke="#fff" stroke-width="1.2" stroke-dasharray="1.1 1.3"/>
<path d="M124.2 375.7 L128.9 377.9" fill="none" stroke="#000" stroke-width="1.2" />
<path d="M128.9 377.2 L134.4 379.6 L134.2 381.2 L128.7 379Z" fill="none" stroke="#000" stroke-width="1" />
<path d="M135.2 378.9 L140.7 374.7 L150.2 370.8 L153.4 371.6 L153.7 378.7 L149.4 385.2" fill="none" stroke="#000" stroke-width="1.2" />
<path d="M139.5 381.5 L142.6 377.3 L150.8 374" fill="none" stroke="#000" stroke-width="0.8" />
<path d="M140.2 382.6 L146.4 381 L147.4 384.8 L143.9 387.3" fill="none" stroke="#000" stroke-width="1.1" />
<path d="M146.4 381 L150.6 379.8 L151.2 383.6 L147.4 384.8" fill="none" stroke="#000" stroke-width="1" />
<path d="M52.8 379.4 L52.8 352.6 L55.2 351.9 L63.3 356.2 L61.2 360.4 L59.1 363.9" fill="none" stroke="#000" stroke-width="1.4" />
<path d="M63.3 356.2 L69 354.6" fill="none" stroke="#000" stroke-width="1.1" />
<path d="M61.2 360.4 L118.7 387.3 L121 390 L128.9 389.4 L132.9 386.5 L139.2 388.9 L143.9 387.3" fill="none" stroke="#000" stroke-width="1.3" />
<path d="M59.1 363.9 L118.7 391 L121 390" fill="none" stroke="#000" stroke-width="1.2" />
<path d="M52.8 379.4 L138.4 415.7 L143.1 413.4" fill="none" stroke="#000" stroke-width="1.6" />
<path d="M56.3 362 L56.3 377.3 L133.6 410.2 L133.6 391.4" fill="none" stroke="#000" stroke-width="1.2" />
<path d="M56.3 377.3 L69.7 375.2 L69.7 369" fill="none" stroke="#000" stroke-width="1" />
<path d="M69.7 375.2 L118 395.6" fill="none" stroke="#000" stroke-width="1" />
<path d="M137.6 388.9 L137.6 415.2" fill="none" stroke="#000" stroke-width="1.3" />
<path d="M140.7 389.6 L140.7 414.6" fill="none" stroke="#000" stroke-width="0.8" />
<path d="M143.1 388.4 L143.1 413.4" fill="none" stroke="#000" stroke-width="1.2" />
<path d="M143.1 391.5 L147.8 390 L147.8 394.2 L143.1 395.8" fill="none" stroke="#000" stroke-width="1" />
</g>
</svg>
</body></html>
